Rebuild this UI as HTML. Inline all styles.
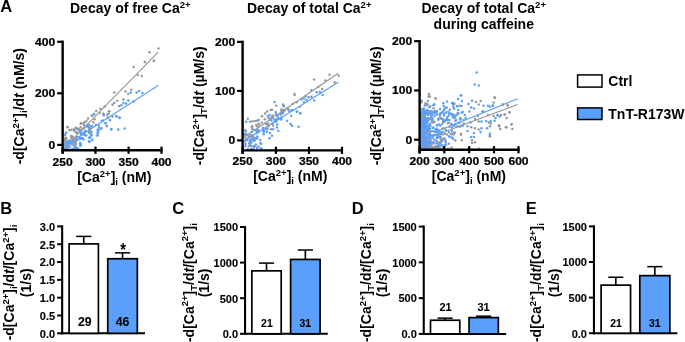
<!DOCTYPE html>
<html><head><meta charset="utf-8"><style>
html,body{margin:0;padding:0;background:#fff;width:685px;height:342px;overflow:hidden}
svg{display:block;will-change:transform}
text{font-family:"Liberation Sans",sans-serif;font-weight:bold;fill:#000}
</style></head><body>
<svg width="685" height="342" viewBox="0 0 685 342">
<text x="0.3" y="11.8" font-size="16.5" text-anchor="start" >A</text>
<text x="0.2" y="213.8" font-size="16.5" text-anchor="start" >B</text>
<text x="172.2" y="214.0" font-size="16.5" text-anchor="start" >C</text>
<text x="351.8" y="213.8" font-size="16.5" text-anchor="start" >D</text>
<text x="525.8" y="213.8" font-size="16.5" text-anchor="start" >E</text>
<text x="70" y="12.55" font-size="14" text-anchor="start" ><tspan dy="0.00" font-size="14.00">Decay of free Ca</tspan><tspan dy="-5.04" font-size="9.52">2+</tspan></text>
<text x="247" y="13.1" font-size="14" text-anchor="start" ><tspan dy="0.00" font-size="14.00">Decay of total Ca</tspan><tspan dy="-5.04" font-size="9.52">2+</tspan></text>
<text x="421.5" y="12.8" font-size="14" text-anchor="start" ><tspan dy="0.00" font-size="14.00">Decay of total Ca</tspan><tspan dy="-5.04" font-size="9.52">2+</tspan></text>
<text x="483.8" y="29.2" font-size="14" text-anchor="middle" >during caffeine</text>
<line x1="65.0" y1="147.2" x2="158.2" y2="52.2" stroke="#959595" stroke-width="1.1"/>
<line x1="64.5" y1="146.0" x2="158.4" y2="85.3" stroke="#5a9ffc" stroke-width="1.1"/>
<circle cx="109.3" cy="111.2" r="1.25" fill="#999999"/>
<circle cx="66.9" cy="149.3" r="1.25" fill="#5a9ffc"/>
<circle cx="101.9" cy="121.0" r="1.25" fill="#5a9ffc"/>
<circle cx="82.5" cy="138.2" r="1.25" fill="#5a9ffc"/>
<circle cx="76.1" cy="137.0" r="1.25" fill="#999999"/>
<circle cx="101.3" cy="128.2" r="1.25" fill="#5a9ffc"/>
<circle cx="68.1" cy="149.0" r="1.25" fill="#999999"/>
<circle cx="89.5" cy="141.5" r="1.25" fill="#5a9ffc"/>
<circle cx="86.6" cy="126.6" r="1.25" fill="#5a9ffc"/>
<circle cx="84.1" cy="127.8" r="1.25" fill="#999999"/>
<circle cx="82.1" cy="138.2" r="1.25" fill="#5a9ffc"/>
<circle cx="65.1" cy="143.6" r="1.25" fill="#5a9ffc"/>
<circle cx="77.2" cy="132.6" r="1.25" fill="#999999"/>
<circle cx="119.0" cy="106.0" r="1.25" fill="#999999"/>
<circle cx="105.6" cy="122.9" r="1.25" fill="#5a9ffc"/>
<circle cx="67.6" cy="127.0" r="1.25" fill="#999999"/>
<circle cx="76.1" cy="132.6" r="1.25" fill="#999999"/>
<circle cx="106.8" cy="126.1" r="1.25" fill="#5a9ffc"/>
<circle cx="79.2" cy="129.7" r="1.25" fill="#5a9ffc"/>
<circle cx="94.1" cy="114.0" r="1.25" fill="#5a9ffc"/>
<circle cx="77.5" cy="140.1" r="1.25" fill="#5a9ffc"/>
<circle cx="103.8" cy="114.9" r="1.25" fill="#5a9ffc"/>
<circle cx="118.3" cy="129.4" r="1.25" fill="#5a9ffc"/>
<circle cx="88.4" cy="125.4" r="1.25" fill="#5a9ffc"/>
<circle cx="69.8" cy="147.1" r="1.25" fill="#5a9ffc"/>
<circle cx="67.9" cy="144.4" r="1.25" fill="#5a9ffc"/>
<circle cx="78.7" cy="129.8" r="1.25" fill="#5a9ffc"/>
<circle cx="74.3" cy="140.5" r="1.25" fill="#5a9ffc"/>
<circle cx="71.2" cy="137.1" r="1.25" fill="#999999"/>
<circle cx="131.3" cy="89.8" r="1.25" fill="#999999"/>
<circle cx="103.2" cy="113.5" r="1.25" fill="#999999"/>
<circle cx="80.2" cy="143.4" r="1.25" fill="#5a9ffc"/>
<circle cx="80.0" cy="138.2" r="1.25" fill="#5a9ffc"/>
<circle cx="145.0" cy="61.9" r="1.25" fill="#999999"/>
<circle cx="116.1" cy="116.1" r="1.25" fill="#5a9ffc"/>
<circle cx="142.4" cy="93.0" r="1.25" fill="#5a9ffc"/>
<circle cx="93.3" cy="122.3" r="1.25" fill="#999999"/>
<circle cx="69.4" cy="130.3" r="1.25" fill="#999999"/>
<circle cx="74.0" cy="142.6" r="1.25" fill="#999999"/>
<circle cx="69.5" cy="142.6" r="1.25" fill="#999999"/>
<circle cx="71.5" cy="129.8" r="1.25" fill="#999999"/>
<circle cx="133.6" cy="101.6" r="1.25" fill="#5a9ffc"/>
<circle cx="80.0" cy="130.7" r="1.25" fill="#999999"/>
<circle cx="109.0" cy="111.2" r="1.25" fill="#999999"/>
<circle cx="105.4" cy="123.3" r="1.25" fill="#5a9ffc"/>
<circle cx="66.1" cy="145.0" r="1.25" fill="#999999"/>
<circle cx="69.3" cy="140.5" r="1.25" fill="#5a9ffc"/>
<circle cx="84.7" cy="122.3" r="1.25" fill="#999999"/>
<circle cx="80.1" cy="142.9" r="1.25" fill="#5a9ffc"/>
<circle cx="68.3" cy="141.9" r="1.25" fill="#5a9ffc"/>
<circle cx="77.9" cy="148.3" r="1.25" fill="#5a9ffc"/>
<circle cx="65.3" cy="140.3" r="1.25" fill="#999999"/>
<circle cx="81.0" cy="123.3" r="1.25" fill="#999999"/>
<circle cx="87.7" cy="125.0" r="1.25" fill="#999999"/>
<circle cx="72.2" cy="136.8" r="1.25" fill="#5a9ffc"/>
<circle cx="82.4" cy="129.3" r="1.25" fill="#999999"/>
<circle cx="65.1" cy="141.4" r="1.25" fill="#999999"/>
<circle cx="71.8" cy="137.4" r="1.25" fill="#5a9ffc"/>
<circle cx="123.4" cy="99.5" r="1.25" fill="#999999"/>
<circle cx="67.5" cy="127.2" r="1.25" fill="#999999"/>
<circle cx="75.5" cy="129.0" r="1.25" fill="#999999"/>
<circle cx="72.8" cy="136.7" r="1.25" fill="#999999"/>
<circle cx="70.2" cy="140.7" r="1.25" fill="#999999"/>
<circle cx="96.0" cy="125.1" r="1.25" fill="#5a9ffc"/>
<circle cx="119.5" cy="118.0" r="1.25" fill="#5a9ffc"/>
<circle cx="90.0" cy="137.3" r="1.25" fill="#5a9ffc"/>
<circle cx="93.9" cy="114.3" r="1.25" fill="#5a9ffc"/>
<circle cx="101.2" cy="128.4" r="1.25" fill="#5a9ffc"/>
<circle cx="92.0" cy="126.0" r="1.25" fill="#5a9ffc"/>
<circle cx="84.7" cy="135.1" r="1.25" fill="#5a9ffc"/>
<circle cx="74.3" cy="148.6" r="1.25" fill="#5a9ffc"/>
<circle cx="106.8" cy="126.0" r="1.25" fill="#5a9ffc"/>
<circle cx="74.4" cy="131.1" r="1.25" fill="#5a9ffc"/>
<circle cx="65.5" cy="147.2" r="1.25" fill="#999999"/>
<circle cx="90.3" cy="137.6" r="1.25" fill="#5a9ffc"/>
<circle cx="75.5" cy="146.9" r="1.25" fill="#5a9ffc"/>
<circle cx="98.9" cy="125.4" r="1.25" fill="#5a9ffc"/>
<circle cx="65.7" cy="133.0" r="1.25" fill="#5a9ffc"/>
<circle cx="80.4" cy="132.1" r="1.25" fill="#999999"/>
<circle cx="65.8" cy="149.0" r="1.25" fill="#999999"/>
<circle cx="103.0" cy="120.5" r="1.25" fill="#5a9ffc"/>
<circle cx="67.3" cy="147.3" r="1.25" fill="#999999"/>
<circle cx="125.5" cy="91.6" r="1.25" fill="#999999"/>
<circle cx="149.4" cy="52.3" r="1.25" fill="#999999"/>
<circle cx="75.5" cy="139.3" r="1.25" fill="#999999"/>
<circle cx="92.3" cy="139.8" r="1.25" fill="#5a9ffc"/>
<circle cx="158.4" cy="48.4" r="1.25" fill="#999999"/>
<circle cx="110.0" cy="120.0" r="1.25" fill="#5a9ffc"/>
<circle cx="117.3" cy="100.7" r="1.25" fill="#999999"/>
<circle cx="154.0" cy="60.8" r="1.25" fill="#999999"/>
<circle cx="74.3" cy="145.9" r="1.25" fill="#5a9ffc"/>
<circle cx="65.1" cy="148.1" r="1.25" fill="#5a9ffc"/>
<circle cx="74.7" cy="146.1" r="1.25" fill="#999999"/>
<circle cx="108.7" cy="113.7" r="1.25" fill="#999999"/>
<circle cx="116.7" cy="116.5" r="1.25" fill="#5a9ffc"/>
<circle cx="83.9" cy="125.0" r="1.25" fill="#999999"/>
<circle cx="66.3" cy="139.9" r="1.25" fill="#999999"/>
<circle cx="88.7" cy="127.5" r="1.25" fill="#5a9ffc"/>
<circle cx="82.0" cy="133.6" r="1.25" fill="#5a9ffc"/>
<circle cx="68.9" cy="145.6" r="1.25" fill="#5a9ffc"/>
<circle cx="97.6" cy="129.7" r="1.25" fill="#5a9ffc"/>
<circle cx="75.5" cy="142.0" r="1.25" fill="#5a9ffc"/>
<circle cx="80.4" cy="145.6" r="1.25" fill="#5a9ffc"/>
<circle cx="86.4" cy="121.0" r="1.25" fill="#999999"/>
<circle cx="76.5" cy="140.3" r="1.25" fill="#5a9ffc"/>
<circle cx="91.5" cy="132.1" r="1.25" fill="#5a9ffc"/>
<circle cx="80.8" cy="134.1" r="1.25" fill="#5a9ffc"/>
<circle cx="66.2" cy="147.1" r="1.25" fill="#5a9ffc"/>
<circle cx="98.8" cy="130.3" r="1.25" fill="#5a9ffc"/>
<circle cx="71.5" cy="142.1" r="1.25" fill="#5a9ffc"/>
<circle cx="103.8" cy="115.3" r="1.25" fill="#5a9ffc"/>
<circle cx="89.0" cy="141.7" r="1.25" fill="#5a9ffc"/>
<circle cx="80.4" cy="131.3" r="1.25" fill="#5a9ffc"/>
<circle cx="65.9" cy="141.6" r="1.25" fill="#999999"/>
<circle cx="83.6" cy="134.3" r="1.25" fill="#5a9ffc"/>
<circle cx="78.8" cy="129.3" r="1.25" fill="#5a9ffc"/>
<circle cx="83.7" cy="133.0" r="1.25" fill="#5a9ffc"/>
<circle cx="89.4" cy="131.0" r="1.25" fill="#5a9ffc"/>
<circle cx="97.4" cy="132.6" r="1.25" fill="#5a9ffc"/>
<circle cx="98.2" cy="132.7" r="1.25" fill="#5a9ffc"/>
<circle cx="89.1" cy="141.5" r="1.25" fill="#5a9ffc"/>
<circle cx="80.2" cy="145.2" r="1.25" fill="#5a9ffc"/>
<circle cx="88.0" cy="118.5" r="1.25" fill="#999999"/>
<circle cx="68.9" cy="143.3" r="1.25" fill="#999999"/>
<circle cx="89.1" cy="137.8" r="1.25" fill="#5a9ffc"/>
<circle cx="68.9" cy="142.9" r="1.25" fill="#5a9ffc"/>
<circle cx="91.5" cy="135.2" r="1.25" fill="#5a9ffc"/>
<circle cx="80.6" cy="127.3" r="1.25" fill="#999999"/>
<circle cx="83.5" cy="122.9" r="1.25" fill="#999999"/>
<circle cx="87.1" cy="125.6" r="1.25" fill="#5a9ffc"/>
<circle cx="89.0" cy="126.5" r="1.25" fill="#5a9ffc"/>
<circle cx="112.5" cy="104.7" r="1.25" fill="#999999"/>
<circle cx="92.1" cy="140.1" r="1.25" fill="#5a9ffc"/>
<circle cx="133.6" cy="67.0" r="1.25" fill="#999999"/>
<circle cx="121.3" cy="105.3" r="1.25" fill="#5a9ffc"/>
<circle cx="139.2" cy="91.1" r="1.25" fill="#5a9ffc"/>
<circle cx="111.1" cy="129.4" r="1.25" fill="#5a9ffc"/>
<circle cx="141.8" cy="76.1" r="1.25" fill="#999999"/>
<circle cx="108.0" cy="117.5" r="1.25" fill="#5a9ffc"/>
<circle cx="72.7" cy="141.4" r="1.25" fill="#5a9ffc"/>
<circle cx="81.8" cy="134.6" r="1.25" fill="#5a9ffc"/>
<circle cx="65.1" cy="145.0" r="1.25" fill="#5a9ffc"/>
<circle cx="99.7" cy="113.0" r="1.25" fill="#999999"/>
<circle cx="100.5" cy="108.8" r="1.25" fill="#999999"/>
<circle cx="91.5" cy="126.0" r="1.25" fill="#5a9ffc"/>
<circle cx="85.0" cy="131.0" r="1.25" fill="#5a9ffc"/>
<circle cx="75.8" cy="127.8" r="1.25" fill="#999999"/>
<circle cx="71.2" cy="141.5" r="1.25" fill="#5a9ffc"/>
<circle cx="73.0" cy="149.3" r="1.25" fill="#5a9ffc"/>
<circle cx="74.6" cy="145.4" r="1.25" fill="#999999"/>
<circle cx="73.4" cy="143.6" r="1.25" fill="#999999"/>
<circle cx="65.3" cy="137.7" r="1.25" fill="#999999"/>
<circle cx="84.3" cy="133.1" r="1.25" fill="#5a9ffc"/>
<circle cx="66.3" cy="138.0" r="1.25" fill="#999999"/>
<circle cx="80.6" cy="145.2" r="1.25" fill="#5a9ffc"/>
<circle cx="80.1" cy="137.4" r="1.25" fill="#5a9ffc"/>
<circle cx="75.5" cy="147.1" r="1.25" fill="#5a9ffc"/>
<circle cx="83.4" cy="139.2" r="1.25" fill="#5a9ffc"/>
<circle cx="65.0" cy="139.0" r="1.25" fill="#999999"/>
<circle cx="65.4" cy="143.7" r="1.25" fill="#999999"/>
<circle cx="107.3" cy="114.4" r="1.25" fill="#999999"/>
<circle cx="72.2" cy="140.3" r="1.25" fill="#999999"/>
<circle cx="98.9" cy="127.8" r="1.25" fill="#999999"/>
<circle cx="66.1" cy="147.6" r="1.25" fill="#5a9ffc"/>
<circle cx="119.5" cy="117.5" r="1.25" fill="#5a9ffc"/>
<circle cx="136.6" cy="92.5" r="1.25" fill="#5a9ffc"/>
<circle cx="114.3" cy="92.5" r="1.25" fill="#999999"/>
<circle cx="71.0" cy="136.1" r="1.25" fill="#999999"/>
<circle cx="126.0" cy="103.5" r="1.25" fill="#5a9ffc"/>
<circle cx="66.8" cy="146.9" r="1.25" fill="#5a9ffc"/>
<circle cx="71.2" cy="143.8" r="1.25" fill="#5a9ffc"/>
<circle cx="71.9" cy="138.5" r="1.25" fill="#999999"/>
<circle cx="97.4" cy="135.4" r="1.25" fill="#5a9ffc"/>
<circle cx="72.3" cy="149.0" r="1.25" fill="#5a9ffc"/>
<circle cx="77.3" cy="133.4" r="1.25" fill="#999999"/>
<circle cx="65.1" cy="134.9" r="1.25" fill="#999999"/>
<circle cx="74.3" cy="139.8" r="1.25" fill="#999999"/>
<circle cx="66.5" cy="142.4" r="1.25" fill="#5a9ffc"/>
<circle cx="80.7" cy="123.7" r="1.25" fill="#999999"/>
<circle cx="70.4" cy="140.9" r="1.25" fill="#5a9ffc"/>
<circle cx="66.4" cy="148.1" r="1.25" fill="#999999"/>
<circle cx="153.6" cy="60.9" r="1.25" fill="#999999"/>
<circle cx="144.8" cy="62.1" r="1.25" fill="#999999"/>
<circle cx="94.6" cy="119.2" r="1.25" fill="#999999"/>
<circle cx="92.1" cy="115.5" r="1.25" fill="#999999"/>
<circle cx="97.6" cy="135.2" r="1.25" fill="#5a9ffc"/>
<circle cx="79.7" cy="139.1" r="1.25" fill="#5a9ffc"/>
<circle cx="91.4" cy="134.8" r="1.25" fill="#5a9ffc"/>
<circle cx="90.3" cy="133.3" r="1.25" fill="#999999"/>
<circle cx="91.8" cy="115.8" r="1.25" fill="#999999"/>
<circle cx="89.5" cy="130.0" r="1.25" fill="#5a9ffc"/>
<circle cx="128.3" cy="100.4" r="1.25" fill="#5a9ffc"/>
<circle cx="104.8" cy="106.5" r="1.25" fill="#999999"/>
<circle cx="88.9" cy="125.0" r="1.25" fill="#999999"/>
<circle cx="112.5" cy="116.5" r="1.25" fill="#5a9ffc"/>
<circle cx="89.5" cy="127.9" r="1.25" fill="#999999"/>
<circle cx="90.6" cy="128.3" r="1.25" fill="#5a9ffc"/>
<circle cx="137.8" cy="74.9" r="1.25" fill="#999999"/>
<circle cx="76.1" cy="144.0" r="1.25" fill="#5a9ffc"/>
<circle cx="124.6" cy="128.5" r="1.25" fill="#5a9ffc"/>
<circle cx="73.5" cy="129.4" r="1.25" fill="#999999"/>
<circle cx="75.1" cy="147.1" r="1.25" fill="#5a9ffc"/>
<circle cx="123.4" cy="103.0" r="1.25" fill="#5a9ffc"/>
<circle cx="77.5" cy="137.2" r="1.25" fill="#5a9ffc"/>
<circle cx="80.4" cy="143.8" r="1.25" fill="#5a9ffc"/>
<circle cx="114.3" cy="103.0" r="1.25" fill="#5a9ffc"/>
<circle cx="77.4" cy="128.4" r="1.25" fill="#999999"/>
<circle cx="107.5" cy="118.0" r="1.25" fill="#999999"/>
<circle cx="96.2" cy="110.9" r="1.25" fill="#999999"/>
<circle cx="76.6" cy="148.2" r="1.25" fill="#5a9ffc"/>
<circle cx="77.0" cy="132.7" r="1.25" fill="#999999"/>
<circle cx="89.7" cy="129.9" r="1.25" fill="#5a9ffc"/>
<circle cx="82.9" cy="138.9" r="1.25" fill="#5a9ffc"/>
<circle cx="128.3" cy="93.7" r="1.25" fill="#999999"/>
<circle cx="66.3" cy="132.7" r="1.25" fill="#5a9ffc"/>
<circle cx="111.4" cy="129.3" r="1.25" fill="#5a9ffc"/>
<circle cx="72.2" cy="144.5" r="1.25" fill="#5a9ffc"/>
<circle cx="75.1" cy="148.8" r="1.25" fill="#5a9ffc"/>
<circle cx="85.6" cy="130.9" r="1.25" fill="#5a9ffc"/>
<circle cx="88.9" cy="132.6" r="1.25" fill="#5a9ffc"/>
<circle cx="130.8" cy="92.5" r="1.25" fill="#5a9ffc"/>
<circle cx="66.9" cy="142.2" r="1.25" fill="#5a9ffc"/>
<circle cx="89.9" cy="129.5" r="1.25" fill="#999999"/>
<circle cx="86.2" cy="135.4" r="1.25" fill="#5a9ffc"/>
<line x1="244" y1="137.3" x2="338.2" y2="73.3" stroke="#959595" stroke-width="1.1"/>
<line x1="244" y1="141.0" x2="338.6" y2="82.0" stroke="#5a9ffc" stroke-width="1.1"/>
<circle cx="247.2" cy="140.1" r="1.25" fill="#5a9ffc"/>
<circle cx="290.5" cy="124.0" r="1.25" fill="#5a9ffc"/>
<circle cx="247.8" cy="118.7" r="1.25" fill="#999999"/>
<circle cx="281.9" cy="111.4" r="1.25" fill="#999999"/>
<circle cx="251.3" cy="148.7" r="1.25" fill="#999999"/>
<circle cx="292.9" cy="103.8" r="1.25" fill="#999999"/>
<circle cx="291.2" cy="115.8" r="1.25" fill="#999999"/>
<circle cx="257.5" cy="126.6" r="1.25" fill="#999999"/>
<circle cx="255.9" cy="144.4" r="1.25" fill="#999999"/>
<circle cx="244.7" cy="134.1" r="1.25" fill="#5a9ffc"/>
<circle cx="318.3" cy="87.0" r="1.25" fill="#999999"/>
<circle cx="272.0" cy="109.7" r="1.25" fill="#999999"/>
<circle cx="257.0" cy="120.8" r="1.25" fill="#999999"/>
<circle cx="258.3" cy="132.1" r="1.25" fill="#999999"/>
<circle cx="260.3" cy="143.3" r="1.25" fill="#5a9ffc"/>
<circle cx="298.7" cy="126.7" r="1.25" fill="#5a9ffc"/>
<circle cx="256.9" cy="132.9" r="1.25" fill="#5a9ffc"/>
<circle cx="311.4" cy="90.2" r="1.25" fill="#5a9ffc"/>
<circle cx="248.5" cy="137.3" r="1.25" fill="#5a9ffc"/>
<circle cx="273.0" cy="125.5" r="1.25" fill="#999999"/>
<circle cx="257.3" cy="136.6" r="1.25" fill="#5a9ffc"/>
<circle cx="281.6" cy="109.9" r="1.25" fill="#999999"/>
<circle cx="258.2" cy="131.7" r="1.25" fill="#999999"/>
<circle cx="275.9" cy="114.1" r="1.25" fill="#5a9ffc"/>
<circle cx="263.7" cy="131.2" r="1.25" fill="#5a9ffc"/>
<circle cx="300.1" cy="113.4" r="1.25" fill="#5a9ffc"/>
<circle cx="266.2" cy="129.2" r="1.25" fill="#5a9ffc"/>
<circle cx="284.9" cy="110.0" r="1.25" fill="#999999"/>
<circle cx="251.7" cy="131.7" r="1.25" fill="#5a9ffc"/>
<circle cx="277.2" cy="124.5" r="1.25" fill="#5a9ffc"/>
<circle cx="271.1" cy="118.5" r="1.25" fill="#999999"/>
<circle cx="253.4" cy="146.0" r="1.25" fill="#999999"/>
<circle cx="273.1" cy="129.2" r="1.25" fill="#5a9ffc"/>
<circle cx="297.0" cy="111.7" r="1.25" fill="#5a9ffc"/>
<circle cx="271.3" cy="120.6" r="1.25" fill="#5a9ffc"/>
<circle cx="250.0" cy="121.7" r="1.25" fill="#999999"/>
<circle cx="301.7" cy="99.4" r="1.25" fill="#5a9ffc"/>
<circle cx="245.3" cy="146.2" r="1.25" fill="#5a9ffc"/>
<circle cx="276.2" cy="121.5" r="1.25" fill="#5a9ffc"/>
<circle cx="267.9" cy="124.7" r="1.25" fill="#999999"/>
<circle cx="252.3" cy="129.1" r="1.25" fill="#999999"/>
<circle cx="283.0" cy="104.5" r="1.25" fill="#999999"/>
<circle cx="250.5" cy="135.2" r="1.25" fill="#5a9ffc"/>
<circle cx="255.3" cy="145.8" r="1.25" fill="#5a9ffc"/>
<circle cx="256.8" cy="130.6" r="1.25" fill="#999999"/>
<circle cx="269.5" cy="115.0" r="1.25" fill="#5a9ffc"/>
<circle cx="278.3" cy="130.8" r="1.25" fill="#5a9ffc"/>
<circle cx="284.0" cy="105.9" r="1.25" fill="#5a9ffc"/>
<circle cx="284.9" cy="110.2" r="1.25" fill="#999999"/>
<circle cx="257.1" cy="138.5" r="1.25" fill="#999999"/>
<circle cx="247.8" cy="149.2" r="1.25" fill="#5a9ffc"/>
<circle cx="250.0" cy="140.5" r="1.25" fill="#5a9ffc"/>
<circle cx="252.2" cy="135.5" r="1.25" fill="#5a9ffc"/>
<circle cx="304.1" cy="102.2" r="1.25" fill="#999999"/>
<circle cx="287.5" cy="108.0" r="1.25" fill="#999999"/>
<circle cx="262.0" cy="116.3" r="1.25" fill="#999999"/>
<circle cx="263.7" cy="134.2" r="1.25" fill="#5a9ffc"/>
<circle cx="287.0" cy="120.8" r="1.25" fill="#5a9ffc"/>
<circle cx="311.4" cy="96.7" r="1.25" fill="#999999"/>
<circle cx="282.1" cy="113.1" r="1.25" fill="#999999"/>
<circle cx="288.8" cy="110.2" r="1.25" fill="#5a9ffc"/>
<circle cx="258.5" cy="146.5" r="1.25" fill="#5a9ffc"/>
<circle cx="248.0" cy="134.4" r="1.25" fill="#999999"/>
<circle cx="277.9" cy="115.7" r="1.25" fill="#5a9ffc"/>
<circle cx="267.8" cy="116.3" r="1.25" fill="#5a9ffc"/>
<circle cx="280.3" cy="118.3" r="1.25" fill="#5a9ffc"/>
<circle cx="272.9" cy="117.9" r="1.25" fill="#5a9ffc"/>
<circle cx="249.3" cy="143.2" r="1.25" fill="#5a9ffc"/>
<circle cx="252.3" cy="126.2" r="1.25" fill="#999999"/>
<circle cx="257.0" cy="138.3" r="1.25" fill="#5a9ffc"/>
<circle cx="258.4" cy="130.2" r="1.25" fill="#5a9ffc"/>
<circle cx="316.7" cy="92.2" r="1.25" fill="#5a9ffc"/>
<circle cx="300.3" cy="113.3" r="1.25" fill="#5a9ffc"/>
<circle cx="257.8" cy="130.4" r="1.25" fill="#5a9ffc"/>
<circle cx="296.9" cy="102.2" r="1.25" fill="#999999"/>
<circle cx="277.8" cy="118.9" r="1.25" fill="#5a9ffc"/>
<circle cx="334.7" cy="82.5" r="1.25" fill="#999999"/>
<circle cx="245.6" cy="144.0" r="1.25" fill="#5a9ffc"/>
<circle cx="272.6" cy="115.5" r="1.25" fill="#999999"/>
<circle cx="255.1" cy="138.1" r="1.25" fill="#999999"/>
<circle cx="254.8" cy="140.5" r="1.25" fill="#5a9ffc"/>
<circle cx="322.6" cy="95.1" r="1.25" fill="#5a9ffc"/>
<circle cx="260.3" cy="140.0" r="1.25" fill="#5a9ffc"/>
<circle cx="254.2" cy="130.1" r="1.25" fill="#5a9ffc"/>
<circle cx="272.0" cy="135.8" r="1.25" fill="#5a9ffc"/>
<circle cx="261.5" cy="148.8" r="1.25" fill="#5a9ffc"/>
<circle cx="267.9" cy="128.4" r="1.25" fill="#999999"/>
<circle cx="256.2" cy="124.9" r="1.25" fill="#999999"/>
<circle cx="265.0" cy="113.5" r="1.25" fill="#999999"/>
<circle cx="288.0" cy="109.1" r="1.25" fill="#999999"/>
<circle cx="268.7" cy="118.3" r="1.25" fill="#999999"/>
<circle cx="249.7" cy="144.0" r="1.25" fill="#999999"/>
<circle cx="258.7" cy="120.0" r="1.25" fill="#5a9ffc"/>
<circle cx="252.8" cy="149.2" r="1.25" fill="#5a9ffc"/>
<circle cx="254.5" cy="138.5" r="1.25" fill="#5a9ffc"/>
<circle cx="281.6" cy="110.4" r="1.25" fill="#999999"/>
<circle cx="266.9" cy="131.7" r="1.25" fill="#5a9ffc"/>
<circle cx="252.8" cy="136.2" r="1.25" fill="#5a9ffc"/>
<circle cx="283.2" cy="110.0" r="1.25" fill="#999999"/>
<circle cx="245.5" cy="133.7" r="1.25" fill="#5a9ffc"/>
<circle cx="263.0" cy="127.9" r="1.25" fill="#5a9ffc"/>
<circle cx="292.0" cy="125.8" r="1.25" fill="#5a9ffc"/>
<circle cx="245.5" cy="138.4" r="1.25" fill="#999999"/>
<circle cx="270.0" cy="133.0" r="1.25" fill="#5a9ffc"/>
<circle cx="249.8" cy="136.1" r="1.25" fill="#999999"/>
<circle cx="250.1" cy="141.3" r="1.25" fill="#5a9ffc"/>
<circle cx="253.0" cy="136.7" r="1.25" fill="#5a9ffc"/>
<circle cx="325.4" cy="80.6" r="1.25" fill="#999999"/>
<circle cx="281.5" cy="117.8" r="1.25" fill="#5a9ffc"/>
<circle cx="245.8" cy="131.3" r="1.25" fill="#5a9ffc"/>
<circle cx="252.5" cy="121.3" r="1.25" fill="#999999"/>
<circle cx="263.7" cy="131.7" r="1.25" fill="#5a9ffc"/>
<circle cx="261.8" cy="122.4" r="1.25" fill="#999999"/>
<circle cx="277.8" cy="116.7" r="1.25" fill="#5a9ffc"/>
<circle cx="255.0" cy="121.0" r="1.25" fill="#999999"/>
<circle cx="244.3" cy="134.5" r="1.25" fill="#5a9ffc"/>
<circle cx="304.1" cy="98.6" r="1.25" fill="#5a9ffc"/>
<circle cx="271.6" cy="116.9" r="1.25" fill="#999999"/>
<circle cx="292.0" cy="110.0" r="1.25" fill="#5a9ffc"/>
<circle cx="276.2" cy="119.5" r="1.25" fill="#5a9ffc"/>
<circle cx="282.5" cy="112.7" r="1.25" fill="#999999"/>
<circle cx="268.6" cy="126.1" r="1.25" fill="#999999"/>
<circle cx="305.7" cy="96.2" r="1.25" fill="#999999"/>
<circle cx="256.7" cy="131.6" r="1.25" fill="#999999"/>
<circle cx="306.5" cy="99.9" r="1.25" fill="#5a9ffc"/>
<circle cx="319.9" cy="91.9" r="1.25" fill="#5a9ffc"/>
<circle cx="251.9" cy="138.9" r="1.25" fill="#5a9ffc"/>
<circle cx="245.1" cy="141.6" r="1.25" fill="#5a9ffc"/>
<circle cx="250.3" cy="140.9" r="1.25" fill="#999999"/>
<circle cx="294.5" cy="95.1" r="1.25" fill="#5a9ffc"/>
<circle cx="276.2" cy="105.8" r="1.25" fill="#999999"/>
<circle cx="280.7" cy="114.8" r="1.25" fill="#999999"/>
<circle cx="280.5" cy="113.7" r="1.25" fill="#999999"/>
<circle cx="275.1" cy="121.2" r="1.25" fill="#5a9ffc"/>
<circle cx="269.5" cy="138.3" r="1.25" fill="#5a9ffc"/>
<circle cx="314.1" cy="100.5" r="1.25" fill="#5a9ffc"/>
<circle cx="322.2" cy="89.0" r="1.25" fill="#999999"/>
<circle cx="254.2" cy="139.0" r="1.25" fill="#999999"/>
<circle cx="274.5" cy="102.0" r="1.25" fill="#5a9ffc"/>
<circle cx="272.5" cy="123.5" r="1.25" fill="#5a9ffc"/>
<circle cx="257.1" cy="148.0" r="1.25" fill="#5a9ffc"/>
<circle cx="251.6" cy="126.9" r="1.25" fill="#999999"/>
<circle cx="257.1" cy="131.8" r="1.25" fill="#5a9ffc"/>
<circle cx="270.7" cy="110.0" r="1.25" fill="#999999"/>
<circle cx="251.7" cy="135.8" r="1.25" fill="#999999"/>
<circle cx="248.9" cy="146.2" r="1.25" fill="#999999"/>
<circle cx="250.0" cy="139.9" r="1.25" fill="#5a9ffc"/>
<circle cx="268.2" cy="123.4" r="1.25" fill="#999999"/>
<circle cx="263.5" cy="130.2" r="1.25" fill="#5a9ffc"/>
<circle cx="246.0" cy="135.0" r="1.25" fill="#999999"/>
<circle cx="329.6" cy="74.8" r="1.25" fill="#999999"/>
<circle cx="338.7" cy="75.8" r="1.25" fill="#999999"/>
<circle cx="283.3" cy="111.2" r="1.25" fill="#999999"/>
<circle cx="259.0" cy="124.5" r="1.25" fill="#999999"/>
<circle cx="246.2" cy="121.7" r="1.25" fill="#5a9ffc"/>
<circle cx="251.6" cy="136.4" r="1.25" fill="#999999"/>
<circle cx="281.2" cy="109.7" r="1.25" fill="#999999"/>
<circle cx="254.0" cy="147.3" r="1.25" fill="#5a9ffc"/>
<circle cx="283.7" cy="106.3" r="1.25" fill="#5a9ffc"/>
<circle cx="267.2" cy="111.5" r="1.25" fill="#999999"/>
<circle cx="266.0" cy="124.1" r="1.25" fill="#999999"/>
<circle cx="277.0" cy="127.5" r="1.25" fill="#5a9ffc"/>
<circle cx="264.8" cy="119.2" r="1.25" fill="#999999"/>
<circle cx="314.1" cy="79.6" r="1.25" fill="#999999"/>
<circle cx="251.4" cy="140.6" r="1.25" fill="#5a9ffc"/>
<circle cx="254.1" cy="140.7" r="1.25" fill="#5a9ffc"/>
<circle cx="271.2" cy="129.2" r="1.25" fill="#999999"/>
<circle cx="275.7" cy="112.0" r="1.25" fill="#5a9ffc"/>
<circle cx="282.4" cy="113.1" r="1.25" fill="#5a9ffc"/>
<circle cx="251.4" cy="142.4" r="1.25" fill="#5a9ffc"/>
<circle cx="289.5" cy="110.8" r="1.25" fill="#5a9ffc"/>
<circle cx="296.9" cy="111.5" r="1.25" fill="#5a9ffc"/>
<circle cx="245.3" cy="130.0" r="1.25" fill="#999999"/>
<circle cx="281.9" cy="110.0" r="1.25" fill="#999999"/>
<circle cx="300.1" cy="106.7" r="1.25" fill="#999999"/>
<circle cx="260.9" cy="148.2" r="1.25" fill="#5a9ffc"/>
<circle cx="258.6" cy="123.7" r="1.25" fill="#999999"/>
<circle cx="282.8" cy="113.3" r="1.25" fill="#5a9ffc"/>
<circle cx="294.5" cy="94.1" r="1.25" fill="#999999"/>
<circle cx="250.9" cy="145.7" r="1.25" fill="#5a9ffc"/>
<circle cx="281.0" cy="119.6" r="1.25" fill="#5a9ffc"/>
<circle cx="261.1" cy="143.7" r="1.25" fill="#5a9ffc"/>
<circle cx="308.6" cy="97.3" r="1.25" fill="#5a9ffc"/>
<circle cx="283.0" cy="110.0" r="1.25" fill="#999999"/>
<circle cx="274.5" cy="119.8" r="1.25" fill="#5a9ffc"/>
<line x1="438" y1="134.2" x2="517.7" y2="104.6" stroke="#959595" stroke-width="1.1"/>
<line x1="438" y1="131.0" x2="517.7" y2="98.7" stroke="#5a9ffc" stroke-width="1.1"/>
<circle cx="425.7" cy="146.9" r="1.25" fill="#5a9ffc"/>
<circle cx="427.7" cy="130.8" r="1.25" fill="#5a9ffc"/>
<circle cx="423.4" cy="141.7" r="1.25" fill="#999999"/>
<circle cx="461.7" cy="106.1" r="1.25" fill="#5a9ffc"/>
<circle cx="426.9" cy="105.2" r="1.25" fill="#5a9ffc"/>
<circle cx="422.4" cy="123.1" r="1.25" fill="#999999"/>
<circle cx="490.8" cy="123.5" r="1.25" fill="#999999"/>
<circle cx="441.1" cy="139.8" r="1.25" fill="#999999"/>
<circle cx="421.6" cy="122.4" r="1.25" fill="#5a9ffc"/>
<circle cx="423.1" cy="129.4" r="1.25" fill="#5a9ffc"/>
<circle cx="426.8" cy="142.1" r="1.25" fill="#5a9ffc"/>
<circle cx="424.8" cy="130.2" r="1.25" fill="#5a9ffc"/>
<circle cx="438.0" cy="145.5" r="1.25" fill="#5a9ffc"/>
<circle cx="436.8" cy="148.1" r="1.25" fill="#999999"/>
<circle cx="447.0" cy="101.5" r="1.25" fill="#5a9ffc"/>
<circle cx="447.1" cy="134.6" r="1.25" fill="#999999"/>
<circle cx="449.5" cy="136.5" r="1.25" fill="#5a9ffc"/>
<circle cx="424.0" cy="133.7" r="1.25" fill="#5a9ffc"/>
<circle cx="423.8" cy="138.3" r="1.25" fill="#5a9ffc"/>
<circle cx="489.9" cy="136.6" r="1.25" fill="#999999"/>
<circle cx="423.8" cy="139.6" r="1.25" fill="#5a9ffc"/>
<circle cx="440.0" cy="115.3" r="1.25" fill="#999999"/>
<circle cx="451.2" cy="113.7" r="1.25" fill="#5a9ffc"/>
<circle cx="424.1" cy="123.0" r="1.25" fill="#5a9ffc"/>
<circle cx="499.8" cy="116.4" r="1.25" fill="#999999"/>
<circle cx="446.7" cy="107.5" r="1.25" fill="#5a9ffc"/>
<circle cx="424.6" cy="132.2" r="1.25" fill="#5a9ffc"/>
<circle cx="446.7" cy="119.9" r="1.25" fill="#5a9ffc"/>
<circle cx="422.4" cy="148.5" r="1.25" fill="#5a9ffc"/>
<circle cx="425.0" cy="111.6" r="1.25" fill="#5a9ffc"/>
<circle cx="443.3" cy="120.4" r="1.25" fill="#5a9ffc"/>
<circle cx="431.6" cy="143.7" r="1.25" fill="#999999"/>
<circle cx="428.7" cy="112.7" r="1.25" fill="#5a9ffc"/>
<circle cx="489.0" cy="122.6" r="1.25" fill="#999999"/>
<circle cx="459.7" cy="122.6" r="1.25" fill="#5a9ffc"/>
<circle cx="445.6" cy="142.5" r="1.25" fill="#5a9ffc"/>
<circle cx="422.5" cy="144.7" r="1.25" fill="#5a9ffc"/>
<circle cx="421.5" cy="115.5" r="1.25" fill="#5a9ffc"/>
<circle cx="437.0" cy="125.0" r="1.25" fill="#5a9ffc"/>
<circle cx="454.8" cy="117.4" r="1.25" fill="#999999"/>
<circle cx="449.1" cy="122.8" r="1.25" fill="#5a9ffc"/>
<circle cx="442.2" cy="123.8" r="1.25" fill="#999999"/>
<circle cx="430.2" cy="146.7" r="1.25" fill="#999999"/>
<circle cx="497.4" cy="115.1" r="1.25" fill="#5a9ffc"/>
<circle cx="454.3" cy="126.1" r="1.25" fill="#5a9ffc"/>
<circle cx="453.1" cy="103.3" r="1.25" fill="#5a9ffc"/>
<circle cx="460.6" cy="119.1" r="1.25" fill="#999999"/>
<circle cx="429.9" cy="128.8" r="1.25" fill="#5a9ffc"/>
<circle cx="428.5" cy="118.1" r="1.25" fill="#999999"/>
<circle cx="421.7" cy="117.1" r="1.25" fill="#5a9ffc"/>
<circle cx="437.1" cy="114.4" r="1.25" fill="#5a9ffc"/>
<circle cx="423.5" cy="144.1" r="1.25" fill="#5a9ffc"/>
<circle cx="427.6" cy="130.1" r="1.25" fill="#999999"/>
<circle cx="478.7" cy="121.6" r="1.25" fill="#999999"/>
<circle cx="451.3" cy="125.1" r="1.25" fill="#5a9ffc"/>
<circle cx="498.8" cy="125.2" r="1.25" fill="#999999"/>
<circle cx="449.6" cy="113.4" r="1.25" fill="#5a9ffc"/>
<circle cx="437.0" cy="125.6" r="1.25" fill="#5a9ffc"/>
<circle cx="449.3" cy="149.0" r="1.25" fill="#999999"/>
<circle cx="474.0" cy="137.0" r="1.25" fill="#5a9ffc"/>
<circle cx="423.0" cy="113.3" r="1.25" fill="#5a9ffc"/>
<circle cx="433.4" cy="108.5" r="1.25" fill="#999999"/>
<circle cx="423.2" cy="118.9" r="1.25" fill="#5a9ffc"/>
<circle cx="448.2" cy="148.7" r="1.25" fill="#999999"/>
<circle cx="431.6" cy="146.9" r="1.25" fill="#5a9ffc"/>
<circle cx="421.2" cy="143.5" r="1.25" fill="#5a9ffc"/>
<circle cx="426.1" cy="147.3" r="1.25" fill="#999999"/>
<circle cx="454.2" cy="117.9" r="1.25" fill="#5a9ffc"/>
<circle cx="429.1" cy="112.6" r="1.25" fill="#5a9ffc"/>
<circle cx="427.2" cy="128.9" r="1.25" fill="#5a9ffc"/>
<circle cx="432.6" cy="120.3" r="1.25" fill="#5a9ffc"/>
<circle cx="425.3" cy="137.7" r="1.25" fill="#5a9ffc"/>
<circle cx="440.5" cy="113.2" r="1.25" fill="#5a9ffc"/>
<circle cx="425.1" cy="124.4" r="1.25" fill="#5a9ffc"/>
<circle cx="423.7" cy="129.0" r="1.25" fill="#999999"/>
<circle cx="428.6" cy="119.9" r="1.25" fill="#999999"/>
<circle cx="421.2" cy="146.5" r="1.25" fill="#5a9ffc"/>
<circle cx="435.5" cy="129.5" r="1.25" fill="#5a9ffc"/>
<circle cx="437.9" cy="131.8" r="1.25" fill="#5a9ffc"/>
<circle cx="443.9" cy="110.2" r="1.25" fill="#5a9ffc"/>
<circle cx="429.6" cy="131.0" r="1.25" fill="#999999"/>
<circle cx="483.4" cy="111.4" r="1.25" fill="#999999"/>
<circle cx="422.0" cy="143.2" r="1.25" fill="#5a9ffc"/>
<circle cx="424.0" cy="135.1" r="1.25" fill="#5a9ffc"/>
<circle cx="483.4" cy="105.8" r="1.25" fill="#5a9ffc"/>
<circle cx="429.6" cy="142.3" r="1.25" fill="#5a9ffc"/>
<circle cx="478.7" cy="148.7" r="1.25" fill="#999999"/>
<circle cx="425.9" cy="145.2" r="1.25" fill="#5a9ffc"/>
<circle cx="451.3" cy="134.2" r="1.25" fill="#999999"/>
<circle cx="470.3" cy="122.6" r="1.25" fill="#5a9ffc"/>
<circle cx="449.0" cy="136.6" r="1.25" fill="#5a9ffc"/>
<circle cx="436.9" cy="134.7" r="1.25" fill="#5a9ffc"/>
<circle cx="441.4" cy="141.4" r="1.25" fill="#999999"/>
<circle cx="461.0" cy="95.5" r="1.25" fill="#5a9ffc"/>
<circle cx="426.9" cy="149.4" r="1.25" fill="#5a9ffc"/>
<circle cx="425.4" cy="137.2" r="1.25" fill="#5a9ffc"/>
<circle cx="429.6" cy="148.6" r="1.25" fill="#5a9ffc"/>
<circle cx="429.5" cy="125.5" r="1.25" fill="#5a9ffc"/>
<circle cx="426.4" cy="113.9" r="1.25" fill="#999999"/>
<circle cx="427.1" cy="132.2" r="1.25" fill="#5a9ffc"/>
<circle cx="449.1" cy="115.1" r="1.25" fill="#5a9ffc"/>
<circle cx="439.7" cy="146.2" r="1.25" fill="#999999"/>
<circle cx="475.9" cy="102.0" r="1.25" fill="#999999"/>
<circle cx="495.5" cy="117.9" r="1.25" fill="#5a9ffc"/>
<circle cx="425.6" cy="132.1" r="1.25" fill="#5a9ffc"/>
<circle cx="428.8" cy="125.4" r="1.25" fill="#5a9ffc"/>
<circle cx="425.1" cy="145.8" r="1.25" fill="#999999"/>
<circle cx="423.9" cy="127.6" r="1.25" fill="#5a9ffc"/>
<circle cx="435.5" cy="134.7" r="1.25" fill="#999999"/>
<circle cx="430.6" cy="111.1" r="1.25" fill="#5a9ffc"/>
<circle cx="439.3" cy="136.4" r="1.25" fill="#5a9ffc"/>
<circle cx="425.7" cy="142.9" r="1.25" fill="#5a9ffc"/>
<circle cx="422.3" cy="134.4" r="1.25" fill="#5a9ffc"/>
<circle cx="493.6" cy="116.0" r="1.25" fill="#999999"/>
<circle cx="427.8" cy="119.7" r="1.25" fill="#5a9ffc"/>
<circle cx="452.0" cy="103.0" r="1.25" fill="#5a9ffc"/>
<circle cx="423.8" cy="124.1" r="1.25" fill="#5a9ffc"/>
<circle cx="494.6" cy="97.3" r="1.25" fill="#999999"/>
<circle cx="433.2" cy="147.7" r="1.25" fill="#999999"/>
<circle cx="425.1" cy="142.4" r="1.25" fill="#5a9ffc"/>
<circle cx="430.7" cy="119.0" r="1.25" fill="#999999"/>
<circle cx="422.5" cy="109.5" r="1.25" fill="#5a9ffc"/>
<circle cx="434.8" cy="111.0" r="1.25" fill="#5a9ffc"/>
<circle cx="424.1" cy="135.5" r="1.25" fill="#5a9ffc"/>
<circle cx="422.0" cy="131.3" r="1.25" fill="#5a9ffc"/>
<circle cx="424.9" cy="120.6" r="1.25" fill="#5a9ffc"/>
<circle cx="424.1" cy="124.1" r="1.25" fill="#5a9ffc"/>
<circle cx="423.1" cy="126.8" r="1.25" fill="#5a9ffc"/>
<circle cx="432.1" cy="120.2" r="1.25" fill="#5a9ffc"/>
<circle cx="442.6" cy="134.5" r="1.25" fill="#999999"/>
<circle cx="435.8" cy="98.4" r="1.25" fill="#999999"/>
<circle cx="443.1" cy="121.7" r="1.25" fill="#999999"/>
<circle cx="421.8" cy="138.7" r="1.25" fill="#999999"/>
<circle cx="440.7" cy="136.9" r="1.25" fill="#5a9ffc"/>
<circle cx="439.6" cy="131.5" r="1.25" fill="#5a9ffc"/>
<circle cx="427.6" cy="113.9" r="1.25" fill="#999999"/>
<circle cx="426.1" cy="113.4" r="1.25" fill="#5a9ffc"/>
<circle cx="424.7" cy="118.2" r="1.25" fill="#999999"/>
<circle cx="490.8" cy="121.3" r="1.25" fill="#5a9ffc"/>
<circle cx="493.6" cy="102.6" r="1.25" fill="#999999"/>
<circle cx="440.3" cy="142.0" r="1.25" fill="#5a9ffc"/>
<circle cx="429.5" cy="132.9" r="1.25" fill="#5a9ffc"/>
<circle cx="463.7" cy="123.5" r="1.25" fill="#999999"/>
<circle cx="429.3" cy="128.4" r="1.25" fill="#999999"/>
<circle cx="458.0" cy="110.1" r="1.25" fill="#5a9ffc"/>
<circle cx="423.8" cy="123.0" r="1.25" fill="#5a9ffc"/>
<circle cx="472.1" cy="143.1" r="1.25" fill="#999999"/>
<circle cx="426.2" cy="119.8" r="1.25" fill="#5a9ffc"/>
<circle cx="423.3" cy="134.7" r="1.25" fill="#999999"/>
<circle cx="512.3" cy="129.1" r="1.25" fill="#999999"/>
<circle cx="475.0" cy="128.2" r="1.25" fill="#999999"/>
<circle cx="427.5" cy="147.9" r="1.25" fill="#5a9ffc"/>
<circle cx="457.7" cy="113.1" r="1.25" fill="#999999"/>
<circle cx="500.2" cy="129.1" r="1.25" fill="#999999"/>
<circle cx="467.5" cy="126.3" r="1.25" fill="#5a9ffc"/>
<circle cx="421.6" cy="135.8" r="1.25" fill="#5a9ffc"/>
<circle cx="426.0" cy="129.2" r="1.25" fill="#999999"/>
<circle cx="446.9" cy="118.2" r="1.25" fill="#5a9ffc"/>
<circle cx="444.8" cy="121.0" r="1.25" fill="#5a9ffc"/>
<circle cx="428.4" cy="147.3" r="1.25" fill="#5a9ffc"/>
<circle cx="427.5" cy="129.2" r="1.25" fill="#5a9ffc"/>
<circle cx="421.2" cy="148.8" r="1.25" fill="#5a9ffc"/>
<circle cx="427.2" cy="139.1" r="1.25" fill="#5a9ffc"/>
<circle cx="424.9" cy="124.6" r="1.25" fill="#5a9ffc"/>
<circle cx="422.8" cy="120.0" r="1.25" fill="#5a9ffc"/>
<circle cx="424.4" cy="115.5" r="1.25" fill="#5a9ffc"/>
<circle cx="444.1" cy="113.8" r="1.25" fill="#5a9ffc"/>
<circle cx="443.9" cy="115.5" r="1.25" fill="#5a9ffc"/>
<circle cx="443.9" cy="120.6" r="1.25" fill="#5a9ffc"/>
<circle cx="442.4" cy="128.7" r="1.25" fill="#999999"/>
<circle cx="421.3" cy="130.4" r="1.25" fill="#5a9ffc"/>
<circle cx="459.8" cy="105.8" r="1.25" fill="#999999"/>
<circle cx="424.7" cy="144.5" r="1.25" fill="#5a9ffc"/>
<circle cx="444.1" cy="128.3" r="1.25" fill="#999999"/>
<circle cx="421.6" cy="132.8" r="1.25" fill="#5a9ffc"/>
<circle cx="441.2" cy="138.2" r="1.25" fill="#999999"/>
<circle cx="462.8" cy="125.4" r="1.25" fill="#999999"/>
<circle cx="444.5" cy="109.0" r="1.25" fill="#5a9ffc"/>
<circle cx="441.7" cy="139.7" r="1.25" fill="#999999"/>
<circle cx="437.6" cy="148.7" r="1.25" fill="#999999"/>
<circle cx="454.1" cy="108.8" r="1.25" fill="#5a9ffc"/>
<circle cx="421.9" cy="112.6" r="1.25" fill="#5a9ffc"/>
<circle cx="428.2" cy="119.2" r="1.25" fill="#5a9ffc"/>
<circle cx="453.4" cy="134.4" r="1.25" fill="#5a9ffc"/>
<circle cx="455.3" cy="140.6" r="1.25" fill="#999999"/>
<circle cx="424.5" cy="137.4" r="1.25" fill="#5a9ffc"/>
<circle cx="423.2" cy="115.5" r="1.25" fill="#999999"/>
<circle cx="477.8" cy="116.0" r="1.25" fill="#999999"/>
<circle cx="427.2" cy="133.4" r="1.25" fill="#999999"/>
<circle cx="429.2" cy="124.8" r="1.25" fill="#5a9ffc"/>
<circle cx="504.7" cy="114.4" r="1.25" fill="#999999"/>
<circle cx="423.7" cy="142.6" r="1.25" fill="#5a9ffc"/>
<circle cx="437.0" cy="128.8" r="1.25" fill="#5a9ffc"/>
<circle cx="426.5" cy="113.2" r="1.25" fill="#5a9ffc"/>
<circle cx="425.5" cy="122.4" r="1.25" fill="#5a9ffc"/>
<circle cx="427.4" cy="112.2" r="1.25" fill="#999999"/>
<circle cx="436.8" cy="138.0" r="1.25" fill="#999999"/>
<circle cx="423.3" cy="143.8" r="1.25" fill="#5a9ffc"/>
<circle cx="447.9" cy="123.3" r="1.25" fill="#999999"/>
<circle cx="426.1" cy="148.3" r="1.25" fill="#5a9ffc"/>
<circle cx="422.6" cy="146.7" r="1.25" fill="#5a9ffc"/>
<circle cx="423.3" cy="140.3" r="1.25" fill="#5a9ffc"/>
<circle cx="458.4" cy="113.2" r="1.25" fill="#5a9ffc"/>
<circle cx="488.0" cy="105.8" r="1.25" fill="#5a9ffc"/>
<circle cx="467.5" cy="131.0" r="1.25" fill="#5a9ffc"/>
<circle cx="436.5" cy="141.0" r="1.25" fill="#999999"/>
<circle cx="444.9" cy="139.3" r="1.25" fill="#5a9ffc"/>
<circle cx="422.8" cy="144.8" r="1.25" fill="#5a9ffc"/>
<circle cx="422.4" cy="109.1" r="1.25" fill="#5a9ffc"/>
<circle cx="440.5" cy="134.3" r="1.25" fill="#5a9ffc"/>
<circle cx="423.0" cy="128.8" r="1.25" fill="#5a9ffc"/>
<circle cx="447.4" cy="119.8" r="1.25" fill="#999999"/>
<circle cx="427.0" cy="146.2" r="1.25" fill="#999999"/>
<circle cx="454.8" cy="132.6" r="1.25" fill="#999999"/>
<circle cx="423.3" cy="128.1" r="1.25" fill="#999999"/>
<circle cx="424.0" cy="132.9" r="1.25" fill="#5a9ffc"/>
<circle cx="459.7" cy="126.8" r="1.25" fill="#5a9ffc"/>
<circle cx="438.2" cy="144.9" r="1.25" fill="#5a9ffc"/>
<circle cx="424.1" cy="132.3" r="1.25" fill="#5a9ffc"/>
<circle cx="481.5" cy="121.6" r="1.25" fill="#5a9ffc"/>
<circle cx="421.6" cy="115.9" r="1.25" fill="#5a9ffc"/>
<circle cx="439.6" cy="145.7" r="1.25" fill="#5a9ffc"/>
<circle cx="449.3" cy="113.8" r="1.25" fill="#5a9ffc"/>
<circle cx="423.1" cy="146.9" r="1.25" fill="#999999"/>
<circle cx="444.1" cy="145.5" r="1.25" fill="#999999"/>
<circle cx="442.0" cy="145.3" r="1.25" fill="#5a9ffc"/>
<circle cx="425.4" cy="113.5" r="1.25" fill="#5a9ffc"/>
<circle cx="460.9" cy="95.3" r="1.25" fill="#5a9ffc"/>
<circle cx="423.9" cy="113.2" r="1.25" fill="#5a9ffc"/>
<circle cx="428.6" cy="138.4" r="1.25" fill="#5a9ffc"/>
<circle cx="423.2" cy="116.8" r="1.25" fill="#5a9ffc"/>
<circle cx="443.4" cy="147.7" r="1.25" fill="#5a9ffc"/>
<circle cx="451.5" cy="124.0" r="1.25" fill="#999999"/>
<circle cx="421.6" cy="149.0" r="1.25" fill="#5a9ffc"/>
<circle cx="436.4" cy="129.5" r="1.25" fill="#5a9ffc"/>
<circle cx="430.5" cy="115.0" r="1.25" fill="#5a9ffc"/>
<circle cx="430.9" cy="142.9" r="1.25" fill="#5a9ffc"/>
<circle cx="427.8" cy="101.0" r="1.25" fill="#999999"/>
<circle cx="434.3" cy="139.6" r="1.25" fill="#5a9ffc"/>
<circle cx="424.9" cy="134.6" r="1.25" fill="#5a9ffc"/>
<circle cx="426.0" cy="128.1" r="1.25" fill="#5a9ffc"/>
<circle cx="421.3" cy="126.5" r="1.25" fill="#5a9ffc"/>
<circle cx="427.7" cy="130.1" r="1.25" fill="#5a9ffc"/>
<circle cx="426.5" cy="123.3" r="1.25" fill="#5a9ffc"/>
<circle cx="437.4" cy="134.9" r="1.25" fill="#5a9ffc"/>
<circle cx="444.3" cy="147.8" r="1.25" fill="#999999"/>
<circle cx="423.2" cy="121.0" r="1.25" fill="#5a9ffc"/>
<circle cx="454.1" cy="133.7" r="1.25" fill="#999999"/>
<circle cx="449.9" cy="109.7" r="1.25" fill="#999999"/>
<circle cx="424.2" cy="118.8" r="1.25" fill="#5a9ffc"/>
<circle cx="427.3" cy="112.7" r="1.25" fill="#5a9ffc"/>
<circle cx="446.0" cy="112.4" r="1.25" fill="#5a9ffc"/>
<circle cx="460.9" cy="133.8" r="1.25" fill="#999999"/>
<circle cx="489.9" cy="135.7" r="1.25" fill="#5a9ffc"/>
<circle cx="422.6" cy="122.1" r="1.25" fill="#5a9ffc"/>
<circle cx="422.9" cy="128.8" r="1.25" fill="#5a9ffc"/>
<circle cx="432.4" cy="137.9" r="1.25" fill="#5a9ffc"/>
<circle cx="428.1" cy="143.8" r="1.25" fill="#5a9ffc"/>
<circle cx="428.4" cy="136.3" r="1.25" fill="#5a9ffc"/>
<circle cx="457.0" cy="106.0" r="1.25" fill="#999999"/>
<circle cx="423.0" cy="147.2" r="1.25" fill="#5a9ffc"/>
<circle cx="424.0" cy="108.4" r="1.25" fill="#5a9ffc"/>
<circle cx="429.8" cy="96.4" r="1.25" fill="#999999"/>
<circle cx="474.0" cy="132.9" r="1.25" fill="#5a9ffc"/>
<circle cx="421.2" cy="113.2" r="1.25" fill="#999999"/>
<circle cx="501.1" cy="115.1" r="1.25" fill="#999999"/>
<circle cx="428.6" cy="126.4" r="1.25" fill="#5a9ffc"/>
<circle cx="437.2" cy="142.7" r="1.25" fill="#999999"/>
<circle cx="426.8" cy="147.2" r="1.25" fill="#5a9ffc"/>
<circle cx="427.8" cy="118.6" r="1.25" fill="#999999"/>
<circle cx="503.0" cy="104.8" r="1.25" fill="#999999"/>
<circle cx="422.3" cy="135.9" r="1.25" fill="#5a9ffc"/>
<circle cx="463.7" cy="120.1" r="1.25" fill="#5a9ffc"/>
<circle cx="431.6" cy="144.2" r="1.25" fill="#999999"/>
<circle cx="431.0" cy="112.8" r="1.25" fill="#5a9ffc"/>
<circle cx="452.2" cy="114.5" r="1.25" fill="#999999"/>
<circle cx="438.4" cy="119.0" r="1.25" fill="#5a9ffc"/>
<circle cx="478.7" cy="104.4" r="1.25" fill="#999999"/>
<circle cx="421.3" cy="128.4" r="1.25" fill="#5a9ffc"/>
<circle cx="421.6" cy="139.2" r="1.25" fill="#5a9ffc"/>
<circle cx="425.4" cy="130.1" r="1.25" fill="#5a9ffc"/>
<circle cx="422.6" cy="147.1" r="1.25" fill="#5a9ffc"/>
<circle cx="435.9" cy="148.5" r="1.25" fill="#5a9ffc"/>
<circle cx="421.3" cy="141.9" r="1.25" fill="#5a9ffc"/>
<circle cx="465.6" cy="117.9" r="1.25" fill="#5a9ffc"/>
<circle cx="433.5" cy="105.3" r="1.25" fill="#5a9ffc"/>
<circle cx="453.3" cy="106.7" r="1.25" fill="#5a9ffc"/>
<circle cx="432.4" cy="118.2" r="1.25" fill="#5a9ffc"/>
<circle cx="445.5" cy="107.7" r="1.25" fill="#5a9ffc"/>
<circle cx="426.4" cy="118.6" r="1.25" fill="#5a9ffc"/>
<circle cx="440.3" cy="125.4" r="1.25" fill="#5a9ffc"/>
<circle cx="494.6" cy="120.7" r="1.25" fill="#5a9ffc"/>
<circle cx="471.2" cy="107.6" r="1.25" fill="#5a9ffc"/>
<circle cx="427.6" cy="126.3" r="1.25" fill="#5a9ffc"/>
<circle cx="421.7" cy="145.7" r="1.25" fill="#5a9ffc"/>
<circle cx="424.2" cy="119.3" r="1.25" fill="#5a9ffc"/>
<circle cx="422.9" cy="144.1" r="1.25" fill="#5a9ffc"/>
<circle cx="430.2" cy="144.2" r="1.25" fill="#5a9ffc"/>
<circle cx="425.2" cy="125.1" r="1.25" fill="#5a9ffc"/>
<circle cx="422.9" cy="138.7" r="1.25" fill="#999999"/>
<circle cx="427.8" cy="120.2" r="1.25" fill="#5a9ffc"/>
<circle cx="423.2" cy="135.2" r="1.25" fill="#5a9ffc"/>
<circle cx="421.1" cy="123.2" r="1.25" fill="#5a9ffc"/>
<circle cx="511.6" cy="124.2" r="1.25" fill="#999999"/>
<circle cx="422.4" cy="120.0" r="1.25" fill="#5a9ffc"/>
<circle cx="433.3" cy="136.1" r="1.25" fill="#5a9ffc"/>
<circle cx="423.9" cy="112.9" r="1.25" fill="#5a9ffc"/>
<circle cx="444.1" cy="121.9" r="1.25" fill="#5a9ffc"/>
<circle cx="464.7" cy="115.1" r="1.25" fill="#5a9ffc"/>
<circle cx="451.9" cy="137.6" r="1.25" fill="#5a9ffc"/>
<circle cx="448.2" cy="111.8" r="1.25" fill="#5a9ffc"/>
<circle cx="425.6" cy="138.5" r="1.25" fill="#5a9ffc"/>
<circle cx="433.6" cy="127.8" r="1.25" fill="#5a9ffc"/>
<circle cx="457.5" cy="114.3" r="1.25" fill="#5a9ffc"/>
<circle cx="429.9" cy="132.5" r="1.25" fill="#5a9ffc"/>
<circle cx="438.2" cy="134.3" r="1.25" fill="#5a9ffc"/>
<circle cx="423.8" cy="124.1" r="1.25" fill="#5a9ffc"/>
<circle cx="436.9" cy="110.9" r="1.25" fill="#5a9ffc"/>
<circle cx="455.8" cy="115.4" r="1.25" fill="#5a9ffc"/>
<circle cx="437.5" cy="149.3" r="1.25" fill="#5a9ffc"/>
<circle cx="429.3" cy="135.3" r="1.25" fill="#5a9ffc"/>
<circle cx="422.4" cy="145.9" r="1.25" fill="#5a9ffc"/>
<circle cx="428.6" cy="111.1" r="1.25" fill="#5a9ffc"/>
<circle cx="453.2" cy="114.4" r="1.25" fill="#5a9ffc"/>
<circle cx="430.3" cy="138.4" r="1.25" fill="#5a9ffc"/>
<circle cx="432.6" cy="127.7" r="1.25" fill="#5a9ffc"/>
<circle cx="507.6" cy="105.6" r="1.25" fill="#999999"/>
<circle cx="456.1" cy="119.9" r="1.25" fill="#5a9ffc"/>
<circle cx="423.6" cy="126.0" r="1.25" fill="#5a9ffc"/>
<circle cx="421.3" cy="127.4" r="1.25" fill="#5a9ffc"/>
<circle cx="424.7" cy="145.6" r="1.25" fill="#5a9ffc"/>
<circle cx="426.7" cy="128.6" r="1.25" fill="#5a9ffc"/>
<circle cx="422.0" cy="141.2" r="1.25" fill="#5a9ffc"/>
<circle cx="441.2" cy="132.9" r="1.25" fill="#5a9ffc"/>
<circle cx="424.4" cy="116.9" r="1.25" fill="#5a9ffc"/>
<circle cx="441.8" cy="112.8" r="1.25" fill="#5a9ffc"/>
<circle cx="489.9" cy="106.7" r="1.25" fill="#5a9ffc"/>
<circle cx="424.8" cy="133.2" r="1.25" fill="#5a9ffc"/>
<circle cx="429.0" cy="93.9" r="1.25" fill="#999999"/>
<circle cx="472.1" cy="100.7" r="1.25" fill="#5a9ffc"/>
<circle cx="449.5" cy="120.0" r="1.25" fill="#5a9ffc"/>
<circle cx="451.7" cy="124.4" r="1.25" fill="#5a9ffc"/>
<circle cx="439.3" cy="124.5" r="1.25" fill="#5a9ffc"/>
<circle cx="472.1" cy="140.3" r="1.25" fill="#999999"/>
<circle cx="434.2" cy="104.2" r="1.25" fill="#5a9ffc"/>
<circle cx="423.6" cy="116.0" r="1.25" fill="#5a9ffc"/>
<circle cx="462.8" cy="111.9" r="1.25" fill="#5a9ffc"/>
<circle cx="425.3" cy="146.3" r="1.25" fill="#5a9ffc"/>
<circle cx="423.7" cy="122.6" r="1.25" fill="#5a9ffc"/>
<circle cx="435.9" cy="146.8" r="1.25" fill="#5a9ffc"/>
<circle cx="451.8" cy="130.7" r="1.25" fill="#5a9ffc"/>
<circle cx="422.6" cy="144.3" r="1.25" fill="#5a9ffc"/>
<circle cx="426.3" cy="129.8" r="1.25" fill="#999999"/>
<circle cx="430.5" cy="142.2" r="1.25" fill="#5a9ffc"/>
<circle cx="424.2" cy="143.4" r="1.25" fill="#5a9ffc"/>
<circle cx="421.1" cy="116.6" r="1.25" fill="#5a9ffc"/>
<circle cx="434.5" cy="122.1" r="1.25" fill="#999999"/>
<circle cx="424.4" cy="117.0" r="1.25" fill="#999999"/>
<circle cx="471.2" cy="127.3" r="1.25" fill="#999999"/>
<circle cx="434.3" cy="131.4" r="1.25" fill="#999999"/>
<circle cx="432.7" cy="111.7" r="1.25" fill="#5a9ffc"/>
<circle cx="427.4" cy="122.8" r="1.25" fill="#5a9ffc"/>
<circle cx="504.9" cy="114.2" r="1.25" fill="#999999"/>
<circle cx="438.3" cy="119.8" r="1.25" fill="#5a9ffc"/>
<circle cx="461.7" cy="112.8" r="1.25" fill="#5a9ffc"/>
<circle cx="424.0" cy="147.8" r="1.25" fill="#5a9ffc"/>
<circle cx="435.7" cy="146.3" r="1.25" fill="#999999"/>
<circle cx="432.4" cy="114.7" r="1.25" fill="#5a9ffc"/>
<circle cx="425.6" cy="125.9" r="1.25" fill="#5a9ffc"/>
<circle cx="423.8" cy="128.2" r="1.25" fill="#5a9ffc"/>
<circle cx="427.1" cy="144.3" r="1.25" fill="#5a9ffc"/>
<circle cx="424.2" cy="111.0" r="1.25" fill="#5a9ffc"/>
<circle cx="430.0" cy="145.8" r="1.25" fill="#999999"/>
<circle cx="422.1" cy="123.3" r="1.25" fill="#999999"/>
<circle cx="469.3" cy="111.4" r="1.25" fill="#999999"/>
<circle cx="427.5" cy="119.4" r="1.25" fill="#5a9ffc"/>
<circle cx="453.2" cy="104.7" r="1.25" fill="#999999"/>
<circle cx="430.4" cy="144.2" r="1.25" fill="#5a9ffc"/>
<circle cx="423.9" cy="124.8" r="1.25" fill="#5a9ffc"/>
<circle cx="448.9" cy="132.3" r="1.25" fill="#5a9ffc"/>
<circle cx="451.7" cy="133.4" r="1.25" fill="#999999"/>
<circle cx="437.7" cy="143.5" r="1.25" fill="#5a9ffc"/>
<circle cx="427.1" cy="121.8" r="1.25" fill="#5a9ffc"/>
<circle cx="421.2" cy="121.7" r="1.25" fill="#5a9ffc"/>
<circle cx="442.5" cy="132.1" r="1.25" fill="#5a9ffc"/>
<circle cx="423.7" cy="149.3" r="1.25" fill="#5a9ffc"/>
<circle cx="434.0" cy="147.1" r="1.25" fill="#999999"/>
<circle cx="438.1" cy="134.7" r="1.25" fill="#5a9ffc"/>
<circle cx="430.9" cy="117.6" r="1.25" fill="#5a9ffc"/>
<circle cx="422.4" cy="139.3" r="1.25" fill="#5a9ffc"/>
<circle cx="423.1" cy="132.4" r="1.25" fill="#5a9ffc"/>
<circle cx="461.9" cy="140.3" r="1.25" fill="#999999"/>
<circle cx="424.0" cy="144.5" r="1.25" fill="#5a9ffc"/>
<circle cx="445.0" cy="133.7" r="1.25" fill="#999999"/>
<circle cx="424.8" cy="135.3" r="1.25" fill="#5a9ffc"/>
<circle cx="446.0" cy="130.1" r="1.25" fill="#5a9ffc"/>
<circle cx="427.2" cy="145.5" r="1.25" fill="#999999"/>
<circle cx="423.7" cy="138.0" r="1.25" fill="#999999"/>
<circle cx="422.0" cy="124.7" r="1.25" fill="#5a9ffc"/>
<circle cx="432.0" cy="117.8" r="1.25" fill="#5a9ffc"/>
<circle cx="427.2" cy="133.3" r="1.25" fill="#5a9ffc"/>
<circle cx="452.6" cy="116.3" r="1.25" fill="#999999"/>
<circle cx="431.3" cy="117.7" r="1.25" fill="#5a9ffc"/>
<circle cx="426.4" cy="149.0" r="1.25" fill="#5a9ffc"/>
<circle cx="452.0" cy="127.4" r="1.25" fill="#5a9ffc"/>
<circle cx="428.2" cy="139.3" r="1.25" fill="#999999"/>
<circle cx="453.8" cy="133.0" r="1.25" fill="#999999"/>
<circle cx="441.2" cy="118.5" r="1.25" fill="#5a9ffc"/>
<circle cx="421.6" cy="124.5" r="1.25" fill="#5a9ffc"/>
<circle cx="431.6" cy="121.9" r="1.25" fill="#999999"/>
<circle cx="421.7" cy="148.5" r="1.25" fill="#5a9ffc"/>
<circle cx="424.3" cy="115.9" r="1.25" fill="#5a9ffc"/>
<circle cx="428.2" cy="133.3" r="1.25" fill="#999999"/>
<circle cx="425.0" cy="105.2" r="1.25" fill="#5a9ffc"/>
<circle cx="427.4" cy="134.4" r="1.25" fill="#5a9ffc"/>
<circle cx="425.3" cy="149.8" r="1.25" fill="#5a9ffc"/>
<circle cx="425.5" cy="122.1" r="1.25" fill="#5a9ffc"/>
<circle cx="432.0" cy="131.3" r="1.25" fill="#5a9ffc"/>
<circle cx="427.5" cy="104.2" r="1.25" fill="#999999"/>
<circle cx="426.5" cy="140.1" r="1.25" fill="#5a9ffc"/>
<circle cx="422.3" cy="118.8" r="1.25" fill="#5a9ffc"/>
<circle cx="425.7" cy="143.5" r="1.25" fill="#5a9ffc"/>
<circle cx="461.0" cy="134.8" r="1.25" fill="#999999"/>
<circle cx="428.0" cy="146.9" r="1.25" fill="#999999"/>
<circle cx="422.4" cy="110.0" r="1.25" fill="#5a9ffc"/>
<circle cx="427.3" cy="110.3" r="1.25" fill="#5a9ffc"/>
<circle cx="425.8" cy="129.0" r="1.25" fill="#5a9ffc"/>
<circle cx="453.3" cy="117.5" r="1.25" fill="#5a9ffc"/>
<circle cx="421.4" cy="119.2" r="1.25" fill="#5a9ffc"/>
<circle cx="427.3" cy="118.2" r="1.25" fill="#5a9ffc"/>
<circle cx="422.7" cy="142.8" r="1.25" fill="#5a9ffc"/>
<circle cx="449.3" cy="126.8" r="1.25" fill="#999999"/>
<circle cx="430.9" cy="141.8" r="1.25" fill="#5a9ffc"/>
<circle cx="435.6" cy="131.7" r="1.25" fill="#5a9ffc"/>
<circle cx="422.1" cy="133.0" r="1.25" fill="#5a9ffc"/>
<circle cx="421.9" cy="129.8" r="1.25" fill="#5a9ffc"/>
<circle cx="460.1" cy="119.2" r="1.25" fill="#5a9ffc"/>
<circle cx="423.0" cy="136.3" r="1.25" fill="#5a9ffc"/>
<circle cx="422.6" cy="132.3" r="1.25" fill="#5a9ffc"/>
<circle cx="442.9" cy="119.2" r="1.25" fill="#999999"/>
<circle cx="426.4" cy="149.3" r="1.25" fill="#5a9ffc"/>
<circle cx="422.1" cy="139.2" r="1.25" fill="#5a9ffc"/>
<circle cx="447.4" cy="120.0" r="1.25" fill="#5a9ffc"/>
<circle cx="434.6" cy="115.9" r="1.25" fill="#5a9ffc"/>
<circle cx="445.8" cy="140.9" r="1.25" fill="#999999"/>
<circle cx="423.8" cy="135.5" r="1.25" fill="#5a9ffc"/>
<circle cx="475.0" cy="118.8" r="1.25" fill="#999999"/>
<circle cx="458.5" cy="123.0" r="1.25" fill="#5a9ffc"/>
<circle cx="423.9" cy="129.3" r="1.25" fill="#5a9ffc"/>
<circle cx="421.2" cy="146.0" r="1.25" fill="#5a9ffc"/>
<circle cx="427.8" cy="143.4" r="1.25" fill="#999999"/>
<circle cx="422.1" cy="121.6" r="1.25" fill="#5a9ffc"/>
<circle cx="429.4" cy="140.5" r="1.25" fill="#5a9ffc"/>
<circle cx="425.9" cy="148.0" r="1.25" fill="#5a9ffc"/>
<circle cx="436.7" cy="148.4" r="1.25" fill="#5a9ffc"/>
<circle cx="476.6" cy="72.4" r="1.25" fill="#5a9ffc"/>
<circle cx="425.7" cy="143.2" r="1.25" fill="#5a9ffc"/>
<circle cx="428.1" cy="138.2" r="1.25" fill="#5a9ffc"/>
<circle cx="421.7" cy="141.4" r="1.25" fill="#5a9ffc"/>
<circle cx="422.5" cy="139.1" r="1.25" fill="#5a9ffc"/>
<circle cx="427.6" cy="120.0" r="1.25" fill="#5a9ffc"/>
<circle cx="430.1" cy="106.3" r="1.25" fill="#999999"/>
<circle cx="446.0" cy="144.7" r="1.25" fill="#5a9ffc"/>
<circle cx="506.7" cy="127.2" r="1.25" fill="#999999"/>
<circle cx="431.6" cy="147.7" r="1.25" fill="#999999"/>
<circle cx="443.1" cy="147.6" r="1.25" fill="#999999"/>
<circle cx="424.5" cy="115.1" r="1.25" fill="#5a9ffc"/>
<circle cx="439.9" cy="114.3" r="1.25" fill="#5a9ffc"/>
<circle cx="461.6" cy="125.8" r="1.25" fill="#5a9ffc"/>
<circle cx="424.0" cy="139.0" r="1.25" fill="#999999"/>
<circle cx="423.0" cy="141.1" r="1.25" fill="#5a9ffc"/>
<circle cx="424.6" cy="119.1" r="1.25" fill="#5a9ffc"/>
<circle cx="474.0" cy="108.6" r="1.25" fill="#5a9ffc"/>
<circle cx="436.6" cy="141.3" r="1.25" fill="#5a9ffc"/>
<circle cx="423.0" cy="116.9" r="1.25" fill="#999999"/>
<circle cx="423.3" cy="113.2" r="1.25" fill="#5a9ffc"/>
<circle cx="492.7" cy="105.8" r="1.25" fill="#5a9ffc"/>
<circle cx="425.6" cy="125.6" r="1.25" fill="#5a9ffc"/>
<circle cx="440.8" cy="132.9" r="1.25" fill="#5a9ffc"/>
<circle cx="442.7" cy="140.6" r="1.25" fill="#999999"/>
<circle cx="422.6" cy="124.7" r="1.25" fill="#5a9ffc"/>
<circle cx="432.9" cy="112.5" r="1.25" fill="#999999"/>
<circle cx="422.8" cy="149.6" r="1.25" fill="#5a9ffc"/>
<circle cx="438.6" cy="146.8" r="1.25" fill="#5a9ffc"/>
<circle cx="422.9" cy="122.7" r="1.25" fill="#5a9ffc"/>
<circle cx="428.2" cy="141.9" r="1.25" fill="#5a9ffc"/>
<circle cx="424.7" cy="146.2" r="1.25" fill="#5a9ffc"/>
<circle cx="437.0" cy="138.0" r="1.25" fill="#5a9ffc"/>
<circle cx="435.3" cy="113.4" r="1.25" fill="#5a9ffc"/>
<circle cx="444.1" cy="138.2" r="1.25" fill="#5a9ffc"/>
<circle cx="435.2" cy="112.8" r="1.25" fill="#5a9ffc"/>
<circle cx="421.9" cy="138.7" r="1.25" fill="#5a9ffc"/>
<circle cx="432.1" cy="142.9" r="1.25" fill="#999999"/>
<circle cx="429.8" cy="131.9" r="1.25" fill="#999999"/>
<circle cx="489.9" cy="133.8" r="1.25" fill="#5a9ffc"/>
<circle cx="423.8" cy="119.7" r="1.25" fill="#5a9ffc"/>
<circle cx="499.3" cy="126.3" r="1.25" fill="#999999"/>
<circle cx="423.8" cy="116.1" r="1.25" fill="#999999"/>
<circle cx="468.4" cy="103.9" r="1.25" fill="#5a9ffc"/>
<circle cx="458.0" cy="99.0" r="1.25" fill="#5a9ffc"/>
<circle cx="421.5" cy="102.2" r="1.25" fill="#999999"/>
<circle cx="425.5" cy="103.2" r="1.25" fill="#999999"/>
<circle cx="481.5" cy="128.2" r="1.25" fill="#5a9ffc"/>
<circle cx="428.1" cy="142.0" r="1.25" fill="#5a9ffc"/>
<circle cx="429.3" cy="107.3" r="1.25" fill="#5a9ffc"/>
<circle cx="426.6" cy="131.0" r="1.25" fill="#5a9ffc"/>
<circle cx="454.1" cy="115.9" r="1.25" fill="#5a9ffc"/>
<circle cx="421.3" cy="118.9" r="1.25" fill="#5a9ffc"/>
<circle cx="421.2" cy="148.1" r="1.25" fill="#5a9ffc"/>
<circle cx="446.0" cy="119.9" r="1.25" fill="#5a9ffc"/>
<circle cx="438.5" cy="130.2" r="1.25" fill="#5a9ffc"/>
<circle cx="430.3" cy="126.0" r="1.25" fill="#999999"/>
<circle cx="480.6" cy="131.9" r="1.25" fill="#5a9ffc"/>
<circle cx="431.7" cy="135.5" r="1.25" fill="#5a9ffc"/>
<circle cx="428.7" cy="142.4" r="1.25" fill="#5a9ffc"/>
<circle cx="511.4" cy="124.4" r="1.25" fill="#999999"/>
<circle cx="424.0" cy="120.7" r="1.25" fill="#999999"/>
<circle cx="455.5" cy="121.0" r="1.25" fill="#5a9ffc"/>
<circle cx="424.3" cy="124.2" r="1.25" fill="#5a9ffc"/>
<circle cx="424.4" cy="117.3" r="1.25" fill="#5a9ffc"/>
<circle cx="448.8" cy="143.8" r="1.25" fill="#5a9ffc"/>
<circle cx="438.3" cy="137.2" r="1.25" fill="#5a9ffc"/>
<circle cx="421.2" cy="119.2" r="1.25" fill="#5a9ffc"/>
<circle cx="505.8" cy="127.3" r="1.25" fill="#999999"/>
<circle cx="421.1" cy="120.4" r="1.25" fill="#5a9ffc"/>
<circle cx="429.9" cy="138.7" r="1.25" fill="#999999"/>
<circle cx="502.7" cy="104.6" r="1.25" fill="#999999"/>
<circle cx="438.2" cy="142.7" r="1.25" fill="#999999"/>
<circle cx="430.0" cy="134.6" r="1.25" fill="#5a9ffc"/>
<circle cx="421.7" cy="129.7" r="1.25" fill="#5a9ffc"/>
<circle cx="427.8" cy="111.0" r="1.25" fill="#999999"/>
<circle cx="434.3" cy="149.6" r="1.25" fill="#999999"/>
<circle cx="432.8" cy="122.5" r="1.25" fill="#999999"/>
<circle cx="447.7" cy="116.7" r="1.25" fill="#5a9ffc"/>
<circle cx="422.4" cy="124.8" r="1.25" fill="#5a9ffc"/>
<circle cx="425.3" cy="120.3" r="1.25" fill="#5a9ffc"/>
<circle cx="424.7" cy="129.7" r="1.25" fill="#999999"/>
<circle cx="423.1" cy="137.1" r="1.25" fill="#5a9ffc"/>
<circle cx="436.8" cy="111.7" r="1.25" fill="#5a9ffc"/>
<circle cx="457.4" cy="126.2" r="1.25" fill="#999999"/>
<circle cx="421.8" cy="136.1" r="1.25" fill="#5a9ffc"/>
<circle cx="440.4" cy="143.5" r="1.25" fill="#5a9ffc"/>
<circle cx="422.1" cy="147.4" r="1.25" fill="#5a9ffc"/>
<circle cx="487.1" cy="128.2" r="1.25" fill="#5a9ffc"/>
<circle cx="427.5" cy="118.7" r="1.25" fill="#999999"/>
<circle cx="430.9" cy="113.4" r="1.25" fill="#5a9ffc"/>
<circle cx="475.0" cy="142.2" r="1.25" fill="#999999"/>
<circle cx="425.8" cy="125.3" r="1.25" fill="#5a9ffc"/>
<circle cx="422.8" cy="148.8" r="1.25" fill="#5a9ffc"/>
<circle cx="428.4" cy="147.8" r="1.25" fill="#999999"/>
<circle cx="441.8" cy="118.8" r="1.25" fill="#5a9ffc"/>
<circle cx="423.0" cy="121.2" r="1.25" fill="#5a9ffc"/>
<circle cx="427.9" cy="115.1" r="1.25" fill="#5a9ffc"/>
<circle cx="431.5" cy="112.4" r="1.25" fill="#5a9ffc"/>
<circle cx="436.5" cy="148.5" r="1.25" fill="#5a9ffc"/>
<circle cx="429.5" cy="146.1" r="1.25" fill="#5a9ffc"/>
<circle cx="424.9" cy="114.3" r="1.25" fill="#5a9ffc"/>
<circle cx="424.6" cy="125.3" r="1.25" fill="#5a9ffc"/>
<circle cx="437.5" cy="135.9" r="1.25" fill="#999999"/>
<circle cx="433.9" cy="134.9" r="1.25" fill="#5a9ffc"/>
<circle cx="474.7" cy="84.4" r="1.25" fill="#5a9ffc"/>
<circle cx="509.6" cy="112.5" r="1.25" fill="#999999"/>
<circle cx="421.7" cy="119.0" r="1.25" fill="#5a9ffc"/>
<circle cx="480.6" cy="101.1" r="1.25" fill="#999999"/>
<circle cx="427.3" cy="131.8" r="1.25" fill="#5a9ffc"/>
<circle cx="424.3" cy="121.4" r="1.25" fill="#5a9ffc"/>
<circle cx="422.4" cy="131.2" r="1.25" fill="#5a9ffc"/>
<circle cx="442.7" cy="111.6" r="1.25" fill="#5a9ffc"/>
<circle cx="488.0" cy="115.1" r="1.25" fill="#999999"/>
<circle cx="422.5" cy="136.1" r="1.25" fill="#5a9ffc"/>
<circle cx="421.7" cy="120.9" r="1.25" fill="#5a9ffc"/>
<circle cx="506.7" cy="117.9" r="1.25" fill="#999999"/>
<circle cx="430.2" cy="124.1" r="1.25" fill="#5a9ffc"/>
<circle cx="421.8" cy="124.8" r="1.25" fill="#999999"/>
<circle cx="460.4" cy="118.1" r="1.25" fill="#999999"/>
<circle cx="421.5" cy="115.3" r="1.25" fill="#5a9ffc"/>
<circle cx="440.0" cy="109.1" r="1.25" fill="#5a9ffc"/>
<circle cx="461.9" cy="101.0" r="1.25" fill="#5a9ffc"/>
<circle cx="422.4" cy="138.3" r="1.25" fill="#5a9ffc"/>
<circle cx="428.8" cy="146.2" r="1.25" fill="#5a9ffc"/>
<circle cx="423.9" cy="141.5" r="1.25" fill="#5a9ffc"/>
<circle cx="423.3" cy="122.6" r="1.25" fill="#5a9ffc"/>
<circle cx="430.5" cy="139.0" r="1.25" fill="#5a9ffc"/>
<circle cx="422.5" cy="118.0" r="1.25" fill="#999999"/>
<circle cx="421.2" cy="135.7" r="1.25" fill="#5a9ffc"/>
<circle cx="494.7" cy="98.0" r="1.25" fill="#999999"/>
<circle cx="422.7" cy="119.7" r="1.25" fill="#5a9ffc"/>
<circle cx="429.8" cy="136.6" r="1.25" fill="#5a9ffc"/>
<circle cx="422.0" cy="144.9" r="1.25" fill="#999999"/>
<circle cx="421.1" cy="143.9" r="1.25" fill="#5a9ffc"/>
<circle cx="440.7" cy="139.4" r="1.25" fill="#999999"/>
<circle cx="443.3" cy="103.3" r="1.25" fill="#5a9ffc"/>
<circle cx="435.6" cy="131.7" r="1.25" fill="#5a9ffc"/>
<circle cx="425.5" cy="126.9" r="1.25" fill="#5a9ffc"/>
<circle cx="509.5" cy="112.3" r="1.25" fill="#999999"/>
<circle cx="423.2" cy="143.8" r="1.25" fill="#5a9ffc"/>
<circle cx="423.3" cy="141.4" r="1.25" fill="#5a9ffc"/>
<circle cx="471.2" cy="137.0" r="1.25" fill="#5a9ffc"/>
<circle cx="443.7" cy="106.0" r="1.25" fill="#5a9ffc"/>
<circle cx="486.2" cy="121.3" r="1.25" fill="#5a9ffc"/>
<circle cx="433.3" cy="142.0" r="1.25" fill="#5a9ffc"/>
<circle cx="482.4" cy="111.4" r="1.25" fill="#5a9ffc"/>
<circle cx="422.6" cy="143.5" r="1.25" fill="#5a9ffc"/>
<circle cx="430.6" cy="142.4" r="1.25" fill="#5a9ffc"/>
<circle cx="438.7" cy="148.4" r="1.25" fill="#999999"/>
<circle cx="441.0" cy="148.7" r="1.25" fill="#999999"/>
<circle cx="497.8" cy="115.4" r="1.25" fill="#5a9ffc"/>
<circle cx="489.9" cy="126.3" r="1.25" fill="#5a9ffc"/>
<circle cx="435.6" cy="98.3" r="1.25" fill="#999999"/>
<circle cx="428.5" cy="96.5" r="1.25" fill="#999999"/>
<circle cx="451.7" cy="147.6" r="1.25" fill="#999999"/>
<circle cx="427.9" cy="146.7" r="1.25" fill="#999999"/>
<circle cx="426.0" cy="110.5" r="1.25" fill="#5a9ffc"/>
<circle cx="439.9" cy="117.5" r="1.25" fill="#999999"/>
<circle cx="437.3" cy="146.8" r="1.25" fill="#999999"/>
<circle cx="436.6" cy="135.5" r="1.25" fill="#999999"/>
<circle cx="423.9" cy="142.7" r="1.25" fill="#5a9ffc"/>
<circle cx="478.7" cy="85.5" r="1.25" fill="#5a9ffc"/>
<circle cx="425.8" cy="136.8" r="1.25" fill="#5a9ffc"/>
<circle cx="428.7" cy="134.3" r="1.25" fill="#5a9ffc"/>
<circle cx="492.9" cy="105.6" r="1.25" fill="#5a9ffc"/>
<circle cx="507.7" cy="105.2" r="1.25" fill="#999999"/>
<circle cx="457.4" cy="106.2" r="1.25" fill="#5a9ffc"/>
<circle cx="455.4" cy="124.3" r="1.25" fill="#5a9ffc"/>
<circle cx="428.0" cy="134.1" r="1.25" fill="#999999"/>
<circle cx="434.5" cy="143.5" r="1.25" fill="#5a9ffc"/>
<circle cx="423.1" cy="142.6" r="1.25" fill="#5a9ffc"/>
<circle cx="422.4" cy="125.0" r="1.25" fill="#5a9ffc"/>
<circle cx="422.6" cy="111.2" r="1.25" fill="#5a9ffc"/>
<circle cx="423.9" cy="129.1" r="1.25" fill="#5a9ffc"/>
<circle cx="430.2" cy="139.9" r="1.25" fill="#999999"/>
<circle cx="437.2" cy="149.4" r="1.25" fill="#999999"/>
<circle cx="472.0" cy="149.5" r="1.25" fill="#999999"/>
<circle cx="429.2" cy="128.5" r="1.25" fill="#5a9ffc"/>
<circle cx="421.8" cy="100.8" r="1.25" fill="#5a9ffc"/>
<circle cx="478.7" cy="129.5" r="1.25" fill="#999999"/>
<circle cx="453.2" cy="138.7" r="1.25" fill="#5a9ffc"/>
<circle cx="424.6" cy="147.0" r="1.25" fill="#5a9ffc"/>
<circle cx="425.0" cy="140.8" r="1.25" fill="#5a9ffc"/>
<circle cx="454.5" cy="103.8" r="1.25" fill="#5a9ffc"/>
<line x1="62.65" y1="40.599999999999994" x2="62.65" y2="153.7" stroke="#000" stroke-width="2.4" fill="none"/>
<line x1="57.15" y1="41.8" x2="62.65" y2="41.8" stroke="#000" stroke-width="2.2"/>
<text transform="translate(55.15,45.76) scale(1.1,1)" x="0" y="0" font-size="11" text-anchor="end" stroke="#000" stroke-width="0.25" >400</text>
<line x1="57.15" y1="93.3" x2="62.65" y2="93.3" stroke="#000" stroke-width="2.2"/>
<text transform="translate(55.15,97.26) scale(1.1,1)" x="0" y="0" font-size="11" text-anchor="end" stroke="#000" stroke-width="0.25" >200</text>
<line x1="57.15" y1="144.9" x2="62.65" y2="144.9" stroke="#000" stroke-width="2.2"/>
<text transform="translate(55.15,148.86) scale(1.1,1)" x="0" y="0" font-size="11" text-anchor="end" stroke="#000" stroke-width="0.25" >0</text>
<line x1="61.65" y1="150.2" x2="162.5" y2="150.2" stroke="#000" stroke-width="2.4" fill="none"/>
<line x1="62.65" y1="146.6" x2="62.65" y2="153.79999999999998" stroke="#000" stroke-width="2.2"/>
<text transform="translate(62.65,165.50) scale(1.1,1)" x="0" y="0" font-size="11" text-anchor="middle" stroke="#000" stroke-width="0.25" >250</text>
<line x1="95.5" y1="146.6" x2="95.5" y2="153.79999999999998" stroke="#000" stroke-width="2.2"/>
<text transform="translate(95.50,165.50) scale(1.1,1)" x="0" y="0" font-size="11" text-anchor="middle" stroke="#000" stroke-width="0.25" >300</text>
<line x1="128.6" y1="146.6" x2="128.6" y2="153.79999999999998" stroke="#000" stroke-width="2.2"/>
<text transform="translate(128.60,165.50) scale(1.1,1)" x="0" y="0" font-size="11" text-anchor="middle" stroke="#000" stroke-width="0.25" >350</text>
<line x1="161.5" y1="146.6" x2="161.5" y2="153.79999999999998" stroke="#000" stroke-width="2.2"/>
<text transform="translate(161.50,165.50) scale(1.1,1)" x="0" y="0" font-size="11" text-anchor="middle" stroke="#000" stroke-width="0.25" >400</text>
<text transform="translate(24.4,106.2) rotate(-90)" x="0" y="0" font-size="14" text-anchor="middle" ><tspan dy="0.00" font-size="14.00">-d</tspan><tspan dy="0.00" font-size="14.00">[Ca</tspan><tspan dy="-5.04" font-size="9.52">2+</tspan><tspan dy="5.04" font-size="14.00">]</tspan><tspan dy="3.08" font-size="9.52">i</tspan><tspan dy="-3.08" font-size="14.00">/d</tspan><tspan dy="0.00" font-size="14.00" font-style="italic">t</tspan><tspan dy="0.00" font-size="14.00"> (nM/s)</tspan></text>
<text x="114.3" y="181.6" font-size="14" text-anchor="middle" ><tspan dy="0.00" font-size="14.00">[Ca</tspan><tspan dy="-5.04" font-size="9.52">2+</tspan><tspan dy="5.04" font-size="14.00">]</tspan><tspan dy="3.08" font-size="9.52">i</tspan><tspan dy="-3.08" font-size="14.00"> (nM)</tspan></text>
<line x1="242.6" y1="40.699999999999996" x2="242.6" y2="153.9" stroke="#000" stroke-width="2.4" fill="none"/>
<line x1="237.1" y1="41.9" x2="242.6" y2="41.9" stroke="#000" stroke-width="2.2"/>
<text transform="translate(235.10,45.86) scale(1.1,1)" x="0" y="0" font-size="11" text-anchor="end" stroke="#000" stroke-width="0.25" >200</text>
<line x1="237.1" y1="90.9" x2="242.6" y2="90.9" stroke="#000" stroke-width="2.2"/>
<text transform="translate(235.10,94.86) scale(1.1,1)" x="0" y="0" font-size="11" text-anchor="end" stroke="#000" stroke-width="0.25" >100</text>
<line x1="237.1" y1="140.4" x2="242.6" y2="140.4" stroke="#000" stroke-width="2.2"/>
<text transform="translate(235.10,144.36) scale(1.1,1)" x="0" y="0" font-size="11" text-anchor="end" stroke="#000" stroke-width="0.25" >0</text>
<line x1="241.6" y1="150.35" x2="343.0" y2="150.35" stroke="#000" stroke-width="2.4" fill="none"/>
<line x1="242.6" y1="146.75" x2="242.6" y2="153.95" stroke="#000" stroke-width="2.2"/>
<text transform="translate(242.60,165.20) scale(1.1,1)" x="0" y="0" font-size="11" text-anchor="middle" stroke="#000" stroke-width="0.25" >250</text>
<line x1="275.9" y1="146.75" x2="275.9" y2="153.95" stroke="#000" stroke-width="2.2"/>
<text transform="translate(275.90,165.20) scale(1.1,1)" x="0" y="0" font-size="11" text-anchor="middle" stroke="#000" stroke-width="0.25" >300</text>
<line x1="309.0" y1="146.75" x2="309.0" y2="153.95" stroke="#000" stroke-width="2.2"/>
<text transform="translate(309.00,165.20) scale(1.1,1)" x="0" y="0" font-size="11" text-anchor="middle" stroke="#000" stroke-width="0.25" >350</text>
<line x1="342.0" y1="146.75" x2="342.0" y2="153.95" stroke="#000" stroke-width="2.2"/>
<text transform="translate(342.00,165.20) scale(1.1,1)" x="0" y="0" font-size="11" text-anchor="middle" stroke="#000" stroke-width="0.25" >400</text>
<text transform="translate(204.0,105.8) rotate(-90)" x="0" y="0" font-size="14" text-anchor="middle" ><tspan dy="0.00" font-size="14.00">-d</tspan><tspan dy="0.00" font-size="14.00">[Ca</tspan><tspan dy="-5.04" font-size="9.52">2+</tspan><tspan dy="5.04" font-size="14.00">]</tspan><tspan dy="3.08" font-size="9.52">T</tspan><tspan dy="-3.08" font-size="14.00">/d</tspan><tspan dy="0.00" font-size="14.00" font-style="italic">t</tspan><tspan dy="0.00" font-size="14.00"> (µM/s)</tspan></text>
<text x="290.3" y="180.9" font-size="14" text-anchor="middle" ><tspan dy="0.00" font-size="14.00">[Ca</tspan><tspan dy="-5.04" font-size="9.52">2+</tspan><tspan dy="5.04" font-size="14.00">]</tspan><tspan dy="3.08" font-size="9.52">i</tspan><tspan dy="-3.08" font-size="14.00"> (nM)</tspan></text>
<line x1="419.6" y1="40.0" x2="419.6" y2="153.5" stroke="#000" stroke-width="2.4" fill="none"/>
<line x1="414.1" y1="41.2" x2="419.6" y2="41.2" stroke="#000" stroke-width="2.2"/>
<text transform="translate(412.10,45.16) scale(1.1,1)" x="0" y="0" font-size="11" text-anchor="end" stroke="#000" stroke-width="0.25" >200</text>
<line x1="414.1" y1="90.45" x2="419.6" y2="90.45" stroke="#000" stroke-width="2.2"/>
<text transform="translate(412.10,94.41) scale(1.1,1)" x="0" y="0" font-size="11" text-anchor="end" stroke="#000" stroke-width="0.25" >100</text>
<line x1="414.1" y1="139.7" x2="419.6" y2="139.7" stroke="#000" stroke-width="2.2"/>
<text transform="translate(412.10,143.66) scale(1.1,1)" x="0" y="0" font-size="11" text-anchor="end" stroke="#000" stroke-width="0.25" >0</text>
<line x1="418.6" y1="149.75" x2="519.5" y2="149.75" stroke="#000" stroke-width="2.4" fill="none"/>
<line x1="419.6" y1="146.15" x2="419.6" y2="153.35" stroke="#000" stroke-width="2.2"/>
<text transform="translate(419.60,164.80) scale(1.1,1)" x="0" y="0" font-size="11" text-anchor="middle" stroke="#000" stroke-width="0.25" >200</text>
<line x1="444.3" y1="146.15" x2="444.3" y2="153.35" stroke="#000" stroke-width="2.2"/>
<text transform="translate(444.30,164.80) scale(1.1,1)" x="0" y="0" font-size="11" text-anchor="middle" stroke="#000" stroke-width="0.25" >300</text>
<line x1="469.2" y1="146.15" x2="469.2" y2="153.35" stroke="#000" stroke-width="2.2"/>
<text transform="translate(469.20,164.80) scale(1.1,1)" x="0" y="0" font-size="11" text-anchor="middle" stroke="#000" stroke-width="0.25" >400</text>
<line x1="494.0" y1="146.15" x2="494.0" y2="153.35" stroke="#000" stroke-width="2.2"/>
<text transform="translate(494.00,164.80) scale(1.1,1)" x="0" y="0" font-size="11" text-anchor="middle" stroke="#000" stroke-width="0.25" >500</text>
<line x1="518.5" y1="146.15" x2="518.5" y2="153.35" stroke="#000" stroke-width="2.2"/>
<text transform="translate(518.50,164.80) scale(1.1,1)" x="0" y="0" font-size="11" text-anchor="middle" stroke="#000" stroke-width="0.25" >600</text>
<text transform="translate(380.9,105.8) rotate(-90)" x="0" y="0" font-size="14" text-anchor="middle" ><tspan dy="0.00" font-size="14.00">-d</tspan><tspan dy="0.00" font-size="14.00">[Ca</tspan><tspan dy="-5.04" font-size="9.52">2+</tspan><tspan dy="5.04" font-size="14.00">]</tspan><tspan dy="3.08" font-size="9.52">T</tspan><tspan dy="-3.08" font-size="14.00">/d</tspan><tspan dy="0.00" font-size="14.00" font-style="italic">t</tspan><tspan dy="0.00" font-size="14.00"> (µM/s)</tspan></text>
<text x="468.9" y="181.0" font-size="14" text-anchor="middle" ><tspan dy="0.00" font-size="14.00">[Ca</tspan><tspan dy="-5.04" font-size="9.52">2+</tspan><tspan dy="5.04" font-size="14.00">]</tspan><tspan dy="3.08" font-size="9.52">i</tspan><tspan dy="-3.08" font-size="14.00"> (nM)</tspan></text>
<rect x="577.6" y="74.9" width="24.4" height="12.2" fill="#fff" stroke="#000" stroke-width="1.5"/>
<rect x="577.6" y="107.9" width="24.4" height="11.6" fill="#5a9ffc" stroke="#000" stroke-width="1.5"/>
<text x="608.3" y="86.0" font-size="14" text-anchor="start" >Ctrl</text>
<text x="608.3" y="118.6" font-size="14" text-anchor="start" >TnT-R173W</text>
<line x1="62.15" y1="225.3" x2="62.15" y2="334.40000000000003" stroke="#000" stroke-width="2.1"/>
<line x1="57.15" y1="226.4" x2="62.15" y2="226.4" stroke="#000" stroke-width="2.0"/>
<text x="55.15" y="230.70000000000002" font-size="11" text-anchor="end" stroke="#000" stroke-width="0.12" >3.0</text>
<line x1="57.15" y1="244.21666666666667" x2="62.15" y2="244.21666666666667" stroke="#000" stroke-width="2.0"/>
<text x="55.15" y="248.51666666666668" font-size="11" text-anchor="end" stroke="#000" stroke-width="0.12" >2.5</text>
<line x1="57.15" y1="262.03333333333336" x2="62.15" y2="262.03333333333336" stroke="#000" stroke-width="2.0"/>
<text x="55.15" y="266.33333333333337" font-size="11" text-anchor="end" stroke="#000" stroke-width="0.12" >2.0</text>
<line x1="57.15" y1="279.85" x2="62.15" y2="279.85" stroke="#000" stroke-width="2.0"/>
<text x="55.15" y="284.15000000000003" font-size="11" text-anchor="end" stroke="#000" stroke-width="0.12" >1.5</text>
<line x1="57.15" y1="297.6666666666667" x2="62.15" y2="297.6666666666667" stroke="#000" stroke-width="2.0"/>
<text x="55.15" y="301.9666666666667" font-size="11" text-anchor="end" stroke="#000" stroke-width="0.12" >1.0</text>
<line x1="57.15" y1="315.48333333333335" x2="62.15" y2="315.48333333333335" stroke="#000" stroke-width="2.0"/>
<text x="55.15" y="319.78333333333336" font-size="11" text-anchor="end" stroke="#000" stroke-width="0.12" >0.5</text>
<line x1="57.15" y1="333.3" x2="62.15" y2="333.3" stroke="#000" stroke-width="2.0"/>
<text x="55.15" y="337.6" font-size="11" text-anchor="end" stroke="#000" stroke-width="0.12" >0.0</text>
<line x1="61.15" y1="333.3" x2="145.0" y2="333.3" stroke="#000" stroke-width="2.0"/>
<line x1="83.75" y1="243.9" x2="83.75" y2="236.4" stroke="#000" stroke-width="1.6"/>
<line x1="76.15" y1="236.4" x2="91.35" y2="236.4" stroke="#000" stroke-width="1.5"/>
<rect x="69.1" y="243.9" width="29.30000000000001" height="89.4" fill="#fff" stroke="#000" stroke-width="1.7"/>
<line x1="122.55" y1="258.75" x2="122.55" y2="252.85" stroke="#000" stroke-width="1.6"/>
<line x1="114.95" y1="252.85" x2="130.15" y2="252.85" stroke="#000" stroke-width="1.5"/>
<rect x="107.75" y="258.75" width="29.599999999999994" height="74.55000000000001" fill="#5a9ffc" stroke="#000" stroke-width="1.7"/>
<text x="84.8" y="326.0" font-size="12.3" text-anchor="middle" stroke="#000" stroke-width="0.1" >29</text>
<text x="122.5" y="326.0" font-size="12.3" text-anchor="middle" stroke="#000" stroke-width="0.1" >46</text>
<text transform="translate(14.3,282.5) rotate(-90)" x="0" y="0" font-size="14" text-anchor="middle" ><tspan dy="0.00" font-size="14.00">-d</tspan><tspan dy="0.00" font-size="14.00">[Ca</tspan><tspan dy="-5.04" font-size="9.52">2+</tspan><tspan dy="5.04" font-size="14.00">]</tspan><tspan dy="3.08" font-size="9.52">i</tspan><tspan dy="-3.08" font-size="14.00">/d</tspan><tspan dy="0.00" font-size="14.00" font-style="italic">t</tspan><tspan dy="0.00" font-size="14.00">/</tspan><tspan dy="0.00" font-size="14.00">[Ca</tspan><tspan dy="-5.04" font-size="9.52">2+</tspan><tspan dy="5.04" font-size="14.00">]</tspan><tspan dy="3.08" font-size="9.52">i</tspan></text>
<text transform="translate(31.0,282.8) rotate(-90)" font-size="14" text-anchor="middle">(1/s)</text>
<text transform="translate(123.1,255.5) scale(0.95,1.15)" font-size="15.5" text-anchor="middle">*</text>
<line x1="245.05" y1="225.9" x2="245.05" y2="334.90000000000003" stroke="#000" stroke-width="2.1"/>
<line x1="240.05" y1="227.0" x2="245.05" y2="227.0" stroke="#000" stroke-width="2.0"/>
<text x="238.05" y="231.3" font-size="11" text-anchor="end" stroke="#000" stroke-width="0.12" >1500</text>
<line x1="240.05" y1="262.6" x2="245.05" y2="262.6" stroke="#000" stroke-width="2.0"/>
<text x="238.05" y="266.90000000000003" font-size="11" text-anchor="end" stroke="#000" stroke-width="0.12" >1000</text>
<line x1="240.05" y1="298.2" x2="245.05" y2="298.2" stroke="#000" stroke-width="2.0"/>
<text x="238.05" y="302.5" font-size="11" text-anchor="end" stroke="#000" stroke-width="0.12" >500</text>
<line x1="240.05" y1="333.8" x2="245.05" y2="333.8" stroke="#000" stroke-width="2.0"/>
<text x="238.05" y="338.1" font-size="11" text-anchor="end" stroke="#000" stroke-width="0.12" >0.0</text>
<line x1="244.05" y1="333.8" x2="327.8" y2="333.8" stroke="#000" stroke-width="2.0"/>
<line x1="266.525" y1="270.85" x2="266.525" y2="263.1" stroke="#000" stroke-width="1.6"/>
<line x1="258.92499999999995" y1="263.1" x2="274.125" y2="263.1" stroke="#000" stroke-width="1.5"/>
<rect x="251.85" y="270.85" width="29.349999999999994" height="62.94999999999999" fill="#fff" stroke="#000" stroke-width="1.7"/>
<line x1="305.35" y1="259.45" x2="305.35" y2="250.0" stroke="#000" stroke-width="1.6"/>
<line x1="297.75" y1="250.0" x2="312.95000000000005" y2="250.0" stroke="#000" stroke-width="1.5"/>
<rect x="290.6" y="259.45" width="29.5" height="74.35000000000002" fill="#5a9ffc" stroke="#000" stroke-width="1.7"/>
<text transform="translate(266.90,326.60) scale(0.93,1)" x="0" y="0" font-size="11.2" text-anchor="middle" stroke="#000" stroke-width="0.1" >21</text>
<text transform="translate(305.20,326.60) scale(0.93,1)" x="0" y="0" font-size="11.2" text-anchor="middle" stroke="#000" stroke-width="0.1" >31</text>
<text transform="translate(193.5,282.6) rotate(-90)" x="0" y="0" font-size="14" text-anchor="middle" ><tspan dy="0.00" font-size="14.00">-d</tspan><tspan dy="0.00" font-size="14.00">[Ca</tspan><tspan dy="-5.04" font-size="9.52">2+</tspan><tspan dy="5.04" font-size="14.00">]</tspan><tspan dy="3.08" font-size="9.52">T</tspan><tspan dy="-3.08" font-size="14.00">/d</tspan><tspan dy="0.00" font-size="14.00" font-style="italic">t</tspan><tspan dy="0.00" font-size="14.00">/</tspan><tspan dy="0.00" font-size="14.00">[Ca</tspan><tspan dy="-5.04" font-size="9.52">2+</tspan><tspan dy="5.04" font-size="14.00">]</tspan><tspan dy="3.08" font-size="9.52">i</tspan></text>
<text transform="translate(209.1,282.90000000000003) rotate(-90)" font-size="14" text-anchor="middle">(1/s)</text>
<line x1="423.75" y1="225.48999999999998" x2="423.75" y2="335.0" stroke="#000" stroke-width="2.1"/>
<line x1="418.75" y1="226.58999999999997" x2="423.75" y2="226.58999999999997" stroke="#000" stroke-width="2.0"/>
<text x="416.75" y="230.89" font-size="11" text-anchor="end" stroke="#000" stroke-width="0.12" >1500</text>
<line x1="418.75" y1="262.35999999999996" x2="423.75" y2="262.35999999999996" stroke="#000" stroke-width="2.0"/>
<text x="416.75" y="266.65999999999997" font-size="11" text-anchor="end" stroke="#000" stroke-width="0.12" >1000</text>
<line x1="418.75" y1="298.13" x2="423.75" y2="298.13" stroke="#000" stroke-width="2.0"/>
<text x="416.75" y="302.43" font-size="11" text-anchor="end" stroke="#000" stroke-width="0.12" >500</text>
<line x1="418.75" y1="333.9" x2="423.75" y2="333.9" stroke="#000" stroke-width="2.0"/>
<text x="416.75" y="338.2" font-size="11" text-anchor="end" stroke="#000" stroke-width="0.12" >0.0</text>
<line x1="422.75" y1="333.9" x2="506.2" y2="333.9" stroke="#000" stroke-width="2.0"/>
<line x1="445.15" y1="320.25" x2="445.15" y2="318.15" stroke="#000" stroke-width="1.6"/>
<line x1="437.54999999999995" y1="318.15" x2="452.75" y2="318.15" stroke="#000" stroke-width="1.5"/>
<rect x="430.5" y="320.25" width="29.30000000000001" height="13.649999999999977" fill="#fff" stroke="#000" stroke-width="1.7"/>
<line x1="483.70000000000005" y1="317.6" x2="483.70000000000005" y2="316.2" stroke="#000" stroke-width="1.6"/>
<line x1="476.1" y1="316.2" x2="491.30000000000007" y2="316.2" stroke="#000" stroke-width="1.5"/>
<rect x="469.05" y="317.6" width="29.30000000000001" height="16.299999999999955" fill="#5a9ffc" stroke="#000" stroke-width="1.7"/>
<text transform="translate(445.50,311.40) scale(0.98,1)" x="0" y="0" font-size="11.2" text-anchor="middle" stroke="#000" stroke-width="0.1" >21</text>
<text transform="translate(483.60,311.40) scale(0.98,1)" x="0" y="0" font-size="11.2" text-anchor="middle" stroke="#000" stroke-width="0.1" >31</text>
<text transform="translate(371.2,282.6) rotate(-90)" x="0" y="0" font-size="14" text-anchor="middle" ><tspan dy="0.00" font-size="14.00">-d</tspan><tspan dy="0.00" font-size="14.00">[Ca</tspan><tspan dy="-5.04" font-size="9.52">2+</tspan><tspan dy="5.04" font-size="14.00">]</tspan><tspan dy="3.08" font-size="9.52">T</tspan><tspan dy="-3.08" font-size="14.00">/d</tspan><tspan dy="0.00" font-size="14.00" font-style="italic">t</tspan><tspan dy="0.00" font-size="14.00">/</tspan><tspan dy="0.00" font-size="14.00">[Ca</tspan><tspan dy="-5.04" font-size="9.52">2+</tspan><tspan dy="5.04" font-size="14.00">]</tspan><tspan dy="3.08" font-size="9.52">i</tspan></text>
<text transform="translate(387.0,282.90000000000003) rotate(-90)" font-size="14" text-anchor="middle">(1/s)</text>
<line x1="593.95" y1="225.29999999999998" x2="593.95" y2="334.3" stroke="#000" stroke-width="2.1"/>
<line x1="588.95" y1="226.39999999999998" x2="593.95" y2="226.39999999999998" stroke="#000" stroke-width="2.0"/>
<text x="586.95" y="230.7" font-size="11" text-anchor="end" stroke="#000" stroke-width="0.12" >1500</text>
<line x1="588.95" y1="262.0" x2="593.95" y2="262.0" stroke="#000" stroke-width="2.0"/>
<text x="586.95" y="266.3" font-size="11" text-anchor="end" stroke="#000" stroke-width="0.12" >1000</text>
<line x1="588.95" y1="297.59999999999997" x2="593.95" y2="297.59999999999997" stroke="#000" stroke-width="2.0"/>
<text x="586.95" y="301.9" font-size="11" text-anchor="end" stroke="#000" stroke-width="0.12" >500</text>
<line x1="588.95" y1="333.2" x2="593.95" y2="333.2" stroke="#000" stroke-width="2.0"/>
<text x="586.95" y="337.5" font-size="11" text-anchor="end" stroke="#000" stroke-width="0.12" >0.0</text>
<line x1="592.95" y1="333.2" x2="677.4" y2="333.2" stroke="#000" stroke-width="2.0"/>
<line x1="615.825" y1="285.15" x2="615.825" y2="277.25" stroke="#000" stroke-width="1.6"/>
<line x1="608.225" y1="277.25" x2="623.4250000000001" y2="277.25" stroke="#000" stroke-width="1.5"/>
<rect x="601.1" y="285.15" width="29.449999999999932" height="48.05000000000001" fill="#fff" stroke="#000" stroke-width="1.7"/>
<line x1="654.825" y1="275.65" x2="654.825" y2="266.65" stroke="#000" stroke-width="1.6"/>
<line x1="647.225" y1="266.65" x2="662.4250000000001" y2="266.65" stroke="#000" stroke-width="1.5"/>
<rect x="639.8" y="275.65" width="30.050000000000068" height="57.55000000000001" fill="#5a9ffc" stroke="#000" stroke-width="1.7"/>
<text transform="translate(616.00,326.80) scale(0.93,1)" x="0" y="0" font-size="11.2" text-anchor="middle" stroke="#000" stroke-width="0.1" >21</text>
<text transform="translate(654.80,326.80) scale(0.93,1)" x="0" y="0" font-size="11.2" text-anchor="middle" stroke="#000" stroke-width="0.1" >31</text>
<text transform="translate(541.2,282.6) rotate(-90)" x="0" y="0" font-size="14" text-anchor="middle" ><tspan dy="0.00" font-size="14.00">-d</tspan><tspan dy="0.00" font-size="14.00">[Ca</tspan><tspan dy="-5.04" font-size="9.52">2+</tspan><tspan dy="5.04" font-size="14.00">]</tspan><tspan dy="3.08" font-size="9.52">T</tspan><tspan dy="-3.08" font-size="14.00">/d</tspan><tspan dy="0.00" font-size="14.00" font-style="italic">t</tspan><tspan dy="0.00" font-size="14.00">/</tspan><tspan dy="0.00" font-size="14.00">[Ca</tspan><tspan dy="-5.04" font-size="9.52">2+</tspan><tspan dy="5.04" font-size="14.00">]</tspan><tspan dy="3.08" font-size="9.52">i</tspan></text>
<text transform="translate(559.0,282.90000000000003) rotate(-90)" font-size="14" text-anchor="middle">(1/s)</text>
</svg>
</body></html>
